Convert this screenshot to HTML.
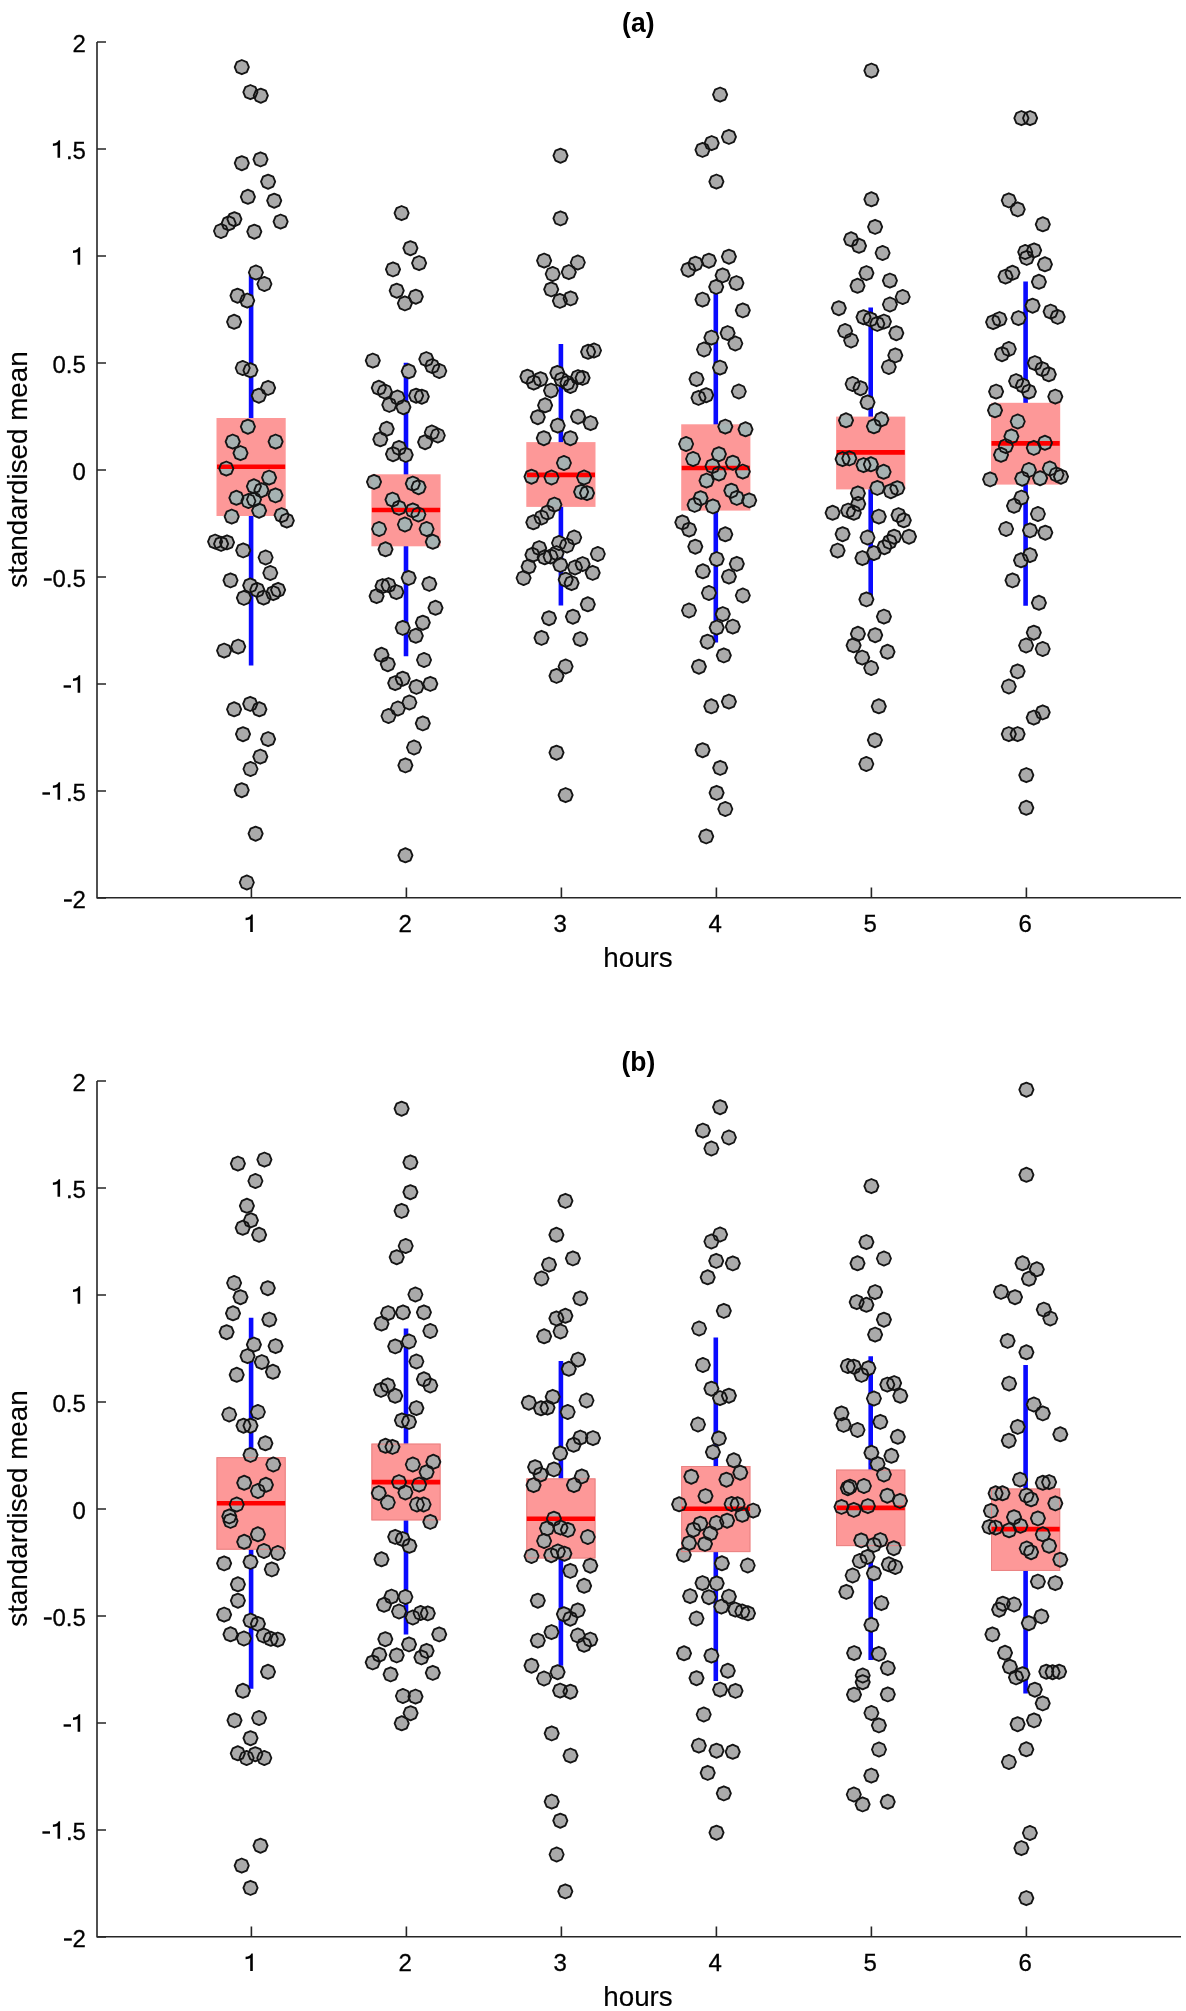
<!DOCTYPE html>
<html><head><meta charset="utf-8"><style>
html,body{margin:0;padding:0;background:#fff;}
body{width:1186px;height:2011px;overflow:hidden;}
svg{display:block;will-change:transform;}
text{font-family:"Liberation Sans", sans-serif;fill:#000;}
.tk{font-size:24px;stroke:#000;stroke-width:0.3px;}
.lb{font-size:27.8px;stroke:#000;stroke-width:0.15px;}
.tt{font-size:26.5px;font-weight:bold;}
.cf use{fill:#aaaaaa;stroke:none;}
.cft use{fill:#a6b2b2;stroke:none;}
.co use{fill:none;stroke:#141414;stroke-width:1.85;stroke-linejoin:round;}
</style></head><body>
<svg width="1186" height="2011" viewBox="0 0 1186 2011">
<defs><path id="m" d="M0.00 -7.10 L5.02 -5.02 L7.10 0.00 L5.02 5.02 L0.00 7.10 L-5.02 5.02 L-7.10 0.00 L-5.02 -5.02 Z"/></defs>
<line x1="251.1" y1="275.0" x2="251.1" y2="665.5" stroke="#0a0aff" stroke-width="4.6"/>
<line x1="406.0" y1="362.8" x2="406.0" y2="656.3" stroke="#0a0aff" stroke-width="4.6"/>
<line x1="560.9" y1="343.9" x2="560.9" y2="605.5" stroke="#0a0aff" stroke-width="4.6"/>
<line x1="715.8" y1="289.0" x2="715.8" y2="642.4" stroke="#0a0aff" stroke-width="4.6"/>
<line x1="870.7" y1="307.5" x2="870.7" y2="597.9" stroke="#0a0aff" stroke-width="4.6"/>
<line x1="1025.6" y1="281.5" x2="1025.6" y2="605.8" stroke="#0a0aff" stroke-width="4.6"/>
<rect x="216.5" y="418.0" width="69.2" height="98.0" fill="#fd9898"/>
<rect x="371.4" y="474.3" width="69.2" height="72.0" fill="#fd9898"/>
<rect x="526.3" y="442.1" width="69.2" height="64.8" fill="#fd9898"/>
<rect x="681.2" y="424.3" width="69.2" height="86.3" fill="#fd9898"/>
<rect x="836.1" y="416.6" width="69.2" height="72.8" fill="#fd9898"/>
<rect x="991.0" y="402.8" width="69.2" height="81.8" fill="#fd9898"/>
<g class="cf"><use href="#m" x="241.8" y="67.1"/><use href="#m" x="250.4" y="92.1"/><use href="#m" x="260.8" y="95.7"/><use href="#m" x="241.8" y="163.2"/><use href="#m" x="260.5" y="159.4"/><use href="#m" x="268.1" y="181.7"/><use href="#m" x="247.9" y="196.8"/><use href="#m" x="274.2" y="200.7"/><use href="#m" x="234.4" y="219.2"/><use href="#m" x="228.7" y="223.3"/><use href="#m" x="221.0" y="231.0"/><use href="#m" x="254.3" y="231.7"/><use href="#m" x="280.6" y="221.6"/><use href="#m" x="255.9" y="272.5"/><use href="#m" x="264.4" y="284.0"/><use href="#m" x="237.5" y="295.7"/><use href="#m" x="247.2" y="300.6"/><use href="#m" x="234.1" y="321.8"/><use href="#m" x="242.7" y="368.0"/><use href="#m" x="250.5" y="370.3"/><use href="#m" x="268.1" y="387.9"/><use href="#m" x="258.8" y="395.7"/><use href="#m" x="247.9" y="426.7"/><use href="#m" x="232.7" y="441.6"/><use href="#m" x="275.6" y="441.6"/><use href="#m" x="240.5" y="453.1"/><use href="#m" x="226.3" y="468.6"/><use href="#m" x="269.1" y="477.6"/><use href="#m" x="253.9" y="486.3"/><use href="#m" x="261.4" y="490.2"/><use href="#m" x="275.5" y="495.4"/><use href="#m" x="236.4" y="497.8"/><use href="#m" x="248.4" y="501.0"/><use href="#m" x="254.0" y="499.5"/><use href="#m" x="259.1" y="510.7"/><use href="#m" x="231.7" y="516.6"/><use href="#m" x="281.6" y="515.1"/><use href="#m" x="286.8" y="520.6"/><use href="#m" x="215.1" y="541.6"/><use href="#m" x="221.1" y="543.9"/><use href="#m" x="227.0" y="542.4"/><use href="#m" x="243.2" y="550.4"/><use href="#m" x="265.6" y="557.5"/><use href="#m" x="270.3" y="573.0"/><use href="#m" x="230.5" y="580.4"/><use href="#m" x="250.2" y="585.4"/><use href="#m" x="257.3" y="589.9"/><use href="#m" x="243.9" y="597.9"/><use href="#m" x="263.6" y="597.6"/><use href="#m" x="273.3" y="593.1"/><use href="#m" x="278.1" y="589.9"/><use href="#m" x="224.1" y="650.6"/><use href="#m" x="238.2" y="646.6"/><use href="#m" x="234.1" y="709.3"/><use href="#m" x="250.2" y="703.9"/><use href="#m" x="259.4" y="709.3"/><use href="#m" x="243.0" y="734.2"/><use href="#m" x="268.1" y="739.1"/><use href="#m" x="260.3" y="756.6"/><use href="#m" x="250.5" y="769.0"/><use href="#m" x="241.7" y="790.2"/><use href="#m" x="255.6" y="833.7"/><use href="#m" x="246.8" y="882.5"/><use href="#m" x="401.6" y="213.1"/><use href="#m" x="410.4" y="248.2"/><use href="#m" x="419.1" y="263.1"/><use href="#m" x="393.0" y="269.4"/><use href="#m" x="396.7" y="290.7"/><use href="#m" x="415.8" y="296.7"/><use href="#m" x="404.9" y="303.4"/><use href="#m" x="372.8" y="360.6"/><use href="#m" x="426.3" y="359.1"/><use href="#m" x="432.2" y="366.1"/><use href="#m" x="439.3" y="371.0"/><use href="#m" x="408.7" y="371.3"/><use href="#m" x="378.8" y="387.8"/><use href="#m" x="384.8" y="391.5"/><use href="#m" x="397.5" y="397.5"/><use href="#m" x="389.3" y="404.9"/><use href="#m" x="403.4" y="407.2"/><use href="#m" x="416.1" y="395.7"/><use href="#m" x="421.8" y="396.7"/><use href="#m" x="386.7" y="428.8"/><use href="#m" x="380.3" y="439.3"/><use href="#m" x="431.8" y="432.5"/><use href="#m" x="437.8" y="435.5"/><use href="#m" x="425.1" y="442.2"/><use href="#m" x="399.0" y="447.9"/><use href="#m" x="393.0" y="454.2"/><use href="#m" x="405.7" y="454.9"/><use href="#m" x="374.0" y="481.9"/><use href="#m" x="412.8" y="483.6"/><use href="#m" x="418.6" y="487.2"/><use href="#m" x="392.5" y="499.6"/><use href="#m" x="399.0" y="507.8"/><use href="#m" x="412.8" y="510.4"/><use href="#m" x="418.4" y="514.5"/><use href="#m" x="404.9" y="524.5"/><use href="#m" x="379.1" y="529.0"/><use href="#m" x="426.6" y="529.0"/><use href="#m" x="432.8" y="541.8"/><use href="#m" x="385.5" y="549.3"/><use href="#m" x="408.7" y="577.9"/><use href="#m" x="429.3" y="583.9"/><use href="#m" x="382.5" y="586.1"/><use href="#m" x="388.5" y="585.1"/><use href="#m" x="396.4" y="592.1"/><use href="#m" x="376.6" y="596.1"/><use href="#m" x="435.5" y="607.8"/><use href="#m" x="422.8" y="622.7"/><use href="#m" x="402.7" y="627.9"/><use href="#m" x="415.8" y="635.8"/><use href="#m" x="381.5" y="654.8"/><use href="#m" x="387.8" y="664.2"/><use href="#m" x="424.0" y="660.0"/><use href="#m" x="395.2" y="683.1"/><use href="#m" x="402.7" y="678.7"/><use href="#m" x="416.4" y="686.9"/><use href="#m" x="430.3" y="683.9"/><use href="#m" x="409.4" y="702.5"/><use href="#m" x="397.9" y="708.5"/><use href="#m" x="388.5" y="716.0"/><use href="#m" x="422.8" y="723.4"/><use href="#m" x="414.0" y="747.5"/><use href="#m" x="405.4" y="765.4"/><use href="#m" x="405.4" y="855.3"/><use href="#m" x="560.5" y="155.7"/><use href="#m" x="560.5" y="218.4"/><use href="#m" x="544.1" y="260.6"/><use href="#m" x="577.8" y="262.5"/><use href="#m" x="552.7" y="274.0"/><use href="#m" x="568.8" y="272.1"/><use href="#m" x="551.2" y="289.4"/><use href="#m" x="559.9" y="300.9"/><use href="#m" x="570.6" y="298.4"/><use href="#m" x="588.1" y="351.8"/><use href="#m" x="594.0" y="350.5"/><use href="#m" x="527.4" y="376.7"/><use href="#m" x="533.7" y="382.6"/><use href="#m" x="540.5" y="379.2"/><use href="#m" x="557.3" y="372.9"/><use href="#m" x="561.5" y="379.6"/><use href="#m" x="567.4" y="383.0"/><use href="#m" x="570.4" y="386.0"/><use href="#m" x="578.0" y="377.1"/><use href="#m" x="582.6" y="377.9"/><use href="#m" x="551.0" y="390.6"/><use href="#m" x="545.1" y="405.3"/><use href="#m" x="537.8" y="417.2"/><use href="#m" x="578.0" y="416.7"/><use href="#m" x="590.6" y="423.1"/><use href="#m" x="557.7" y="425.6"/><use href="#m" x="543.8" y="438.2"/><use href="#m" x="570.4" y="438.2"/><use href="#m" x="563.9" y="463.0"/><use href="#m" x="531.5" y="476.7"/><use href="#m" x="551.5" y="477.5"/><use href="#m" x="584.1" y="477.5"/><use href="#m" x="581.1" y="491.9"/><use href="#m" x="587.0" y="493.1"/><use href="#m" x="554.4" y="504.6"/><use href="#m" x="547.5" y="512.5"/><use href="#m" x="541.5" y="517.5"/><use href="#m" x="533.3" y="522.3"/><use href="#m" x="574.2" y="537.5"/><use href="#m" x="559.0" y="543.0"/><use href="#m" x="567.0" y="545.5"/><use href="#m" x="539.2" y="548.1"/><use href="#m" x="532.4" y="554.8"/><use href="#m" x="544.7" y="557.3"/><use href="#m" x="550.6" y="556.5"/><use href="#m" x="556.5" y="553.1"/><use href="#m" x="560.3" y="564.9"/><use href="#m" x="528.6" y="566.6"/><use href="#m" x="523.6" y="578.0"/><use href="#m" x="575.0" y="567.5"/><use href="#m" x="582.6" y="564.1"/><use href="#m" x="597.8" y="554.0"/><use href="#m" x="592.7" y="572.9"/><use href="#m" x="565.7" y="579.7"/><use href="#m" x="571.6" y="583.1"/><use href="#m" x="587.8" y="604.3"/><use href="#m" x="549.0" y="618.2"/><use href="#m" x="572.9" y="616.7"/><use href="#m" x="541.5" y="637.9"/><use href="#m" x="580.3" y="639.1"/><use href="#m" x="565.6" y="666.5"/><use href="#m" x="556.5" y="675.9"/><use href="#m" x="556.5" y="752.7"/><use href="#m" x="565.6" y="795.1"/><use href="#m" x="720.1" y="94.6"/><use href="#m" x="728.9" y="136.9"/><use href="#m" x="711.7" y="143.1"/><use href="#m" x="702.5" y="149.9"/><use href="#m" x="716.4" y="181.6"/><use href="#m" x="728.9" y="256.7"/><use href="#m" x="708.9" y="260.7"/><use href="#m" x="695.5" y="263.7"/><use href="#m" x="688.3" y="269.7"/><use href="#m" x="722.6" y="275.4"/><use href="#m" x="736.4" y="283.1"/><use href="#m" x="716.2" y="286.9"/><use href="#m" x="702.5" y="299.6"/><use href="#m" x="742.8" y="310.4"/><use href="#m" x="727.6" y="333.1"/><use href="#m" x="711.4" y="337.6"/><use href="#m" x="735.3" y="343.5"/><use href="#m" x="704.0" y="349.5"/><use href="#m" x="720.0" y="367.6"/><use href="#m" x="696.5" y="379.1"/><use href="#m" x="738.8" y="391.5"/><use href="#m" x="706.2" y="395.2"/><use href="#m" x="698.5" y="397.9"/><use href="#m" x="725.3" y="426.6"/><use href="#m" x="745.5" y="429.3"/><use href="#m" x="686.1" y="444.0"/><use href="#m" x="718.9" y="454.2"/><use href="#m" x="693.1" y="459.0"/><use href="#m" x="732.8" y="462.7"/><use href="#m" x="712.5" y="466.1"/><use href="#m" x="718.9" y="473.6"/><use href="#m" x="742.8" y="471.6"/><use href="#m" x="706.5" y="480.6"/><use href="#m" x="731.3" y="490.7"/><use href="#m" x="700.6" y="498.2"/><use href="#m" x="736.8" y="497.9"/><use href="#m" x="749.2" y="500.4"/><use href="#m" x="694.6" y="504.9"/><use href="#m" x="712.9" y="506.4"/><use href="#m" x="682.3" y="522.4"/><use href="#m" x="689.1" y="529.6"/><use href="#m" x="725.3" y="534.3"/><use href="#m" x="695.3" y="546.7"/><use href="#m" x="716.7" y="559.1"/><use href="#m" x="736.8" y="563.9"/><use href="#m" x="702.9" y="571.3"/><use href="#m" x="728.9" y="576.6"/><use href="#m" x="708.9" y="593.0"/><use href="#m" x="742.8" y="595.5"/><use href="#m" x="689.0" y="610.5"/><use href="#m" x="722.8" y="614.1"/><use href="#m" x="716.7" y="627.6"/><use href="#m" x="732.8" y="626.6"/><use href="#m" x="707.5" y="641.7"/><use href="#m" x="723.8" y="655.4"/><use href="#m" x="698.9" y="666.7"/><use href="#m" x="728.9" y="701.6"/><use href="#m" x="711.3" y="706.3"/><use href="#m" x="702.6" y="750.2"/><use href="#m" x="720.2" y="767.9"/><use href="#m" x="716.6" y="792.9"/><use href="#m" x="725.3" y="809.0"/><use href="#m" x="706.2" y="836.4"/><use href="#m" x="871.4" y="70.6"/><use href="#m" x="871.4" y="199.3"/><use href="#m" x="875.1" y="226.9"/><use href="#m" x="851.1" y="239.3"/><use href="#m" x="859.0" y="245.8"/><use href="#m" x="882.6" y="253.0"/><use href="#m" x="866.4" y="273.1"/><use href="#m" x="889.9" y="280.6"/><use href="#m" x="857.5" y="285.8"/><use href="#m" x="902.7" y="297.0"/><use href="#m" x="889.9" y="304.5"/><use href="#m" x="838.8" y="308.2"/><use href="#m" x="863.5" y="317.2"/><use href="#m" x="870.5" y="319.4"/><use href="#m" x="877.3" y="323.9"/><use href="#m" x="883.9" y="321.6"/><use href="#m" x="845.1" y="331.0"/><use href="#m" x="851.1" y="340.5"/><use href="#m" x="896.3" y="333.2"/><use href="#m" x="895.3" y="355.4"/><use href="#m" x="888.8" y="367.0"/><use href="#m" x="852.6" y="384.0"/><use href="#m" x="860.5" y="388.2"/><use href="#m" x="867.5" y="402.4"/><use href="#m" x="846.0" y="420.3"/><use href="#m" x="881.4" y="419.3"/><use href="#m" x="873.9" y="426.3"/><use href="#m" x="842.6" y="459.1"/><use href="#m" x="849.3" y="458.4"/><use href="#m" x="863.5" y="465.1"/><use href="#m" x="870.9" y="464.3"/><use href="#m" x="883.6" y="471.8"/><use href="#m" x="877.3" y="487.9"/><use href="#m" x="890.8" y="491.2"/><use href="#m" x="897.3" y="488.2"/><use href="#m" x="857.9" y="493.4"/><use href="#m" x="858.2" y="503.9"/><use href="#m" x="848.1" y="510.6"/><use href="#m" x="853.8" y="512.8"/><use href="#m" x="832.6" y="512.8"/><use href="#m" x="878.8" y="516.6"/><use href="#m" x="898.5" y="515.1"/><use href="#m" x="903.8" y="520.3"/><use href="#m" x="842.6" y="534.2"/><use href="#m" x="867.5" y="537.5"/><use href="#m" x="894.1" y="536.7"/><use href="#m" x="909.0" y="536.7"/><use href="#m" x="889.6" y="541.9"/><use href="#m" x="884.4" y="547.2"/><use href="#m" x="837.6" y="550.6"/><use href="#m" x="873.9" y="553.1"/><use href="#m" x="862.4" y="558.1"/><use href="#m" x="866.4" y="599.4"/><use href="#m" x="883.9" y="616.6"/><use href="#m" x="857.9" y="633.8"/><use href="#m" x="875.2" y="635.2"/><use href="#m" x="853.6" y="645.3"/><use href="#m" x="887.5" y="651.8"/><use href="#m" x="862.2" y="657.6"/><use href="#m" x="871.2" y="668.0"/><use href="#m" x="878.8" y="706.3"/><use href="#m" x="874.9" y="740.2"/><use href="#m" x="866.3" y="764.0"/><use href="#m" x="1021.4" y="118.1"/><use href="#m" x="1030.1" y="118.1"/><use href="#m" x="1008.8" y="200.4"/><use href="#m" x="1017.7" y="209.4"/><use href="#m" x="1042.8" y="224.3"/><use href="#m" x="1025.2" y="252.0"/><use href="#m" x="1034.1" y="250.4"/><use href="#m" x="1026.7" y="257.9"/><use href="#m" x="1044.9" y="264.3"/><use href="#m" x="1005.5" y="276.6"/><use href="#m" x="1012.5" y="272.8"/><use href="#m" x="1038.9" y="281.8"/><use href="#m" x="1032.6" y="305.7"/><use href="#m" x="1050.6" y="311.6"/><use href="#m" x="1057.7" y="316.9"/><use href="#m" x="999.5" y="319.1"/><use href="#m" x="993.1" y="322.1"/><use href="#m" x="1018.5" y="318.1"/><use href="#m" x="1008.8" y="349.0"/><use href="#m" x="1002.0" y="354.2"/><use href="#m" x="1034.9" y="363.1"/><use href="#m" x="1042.3" y="369.1"/><use href="#m" x="1048.8" y="374.3"/><use href="#m" x="1016.1" y="381.1"/><use href="#m" x="1023.0" y="385.6"/><use href="#m" x="1028.9" y="391.6"/><use href="#m" x="996.1" y="391.6"/><use href="#m" x="1055.3" y="396.6"/><use href="#m" x="995.0" y="410.3"/><use href="#m" x="1017.7" y="421.5"/><use href="#m" x="1011.4" y="436.4"/><use href="#m" x="1005.8" y="446.1"/><use href="#m" x="1001.0" y="454.8"/><use href="#m" x="1033.8" y="447.9"/><use href="#m" x="1044.9" y="442.8"/><use href="#m" x="1028.9" y="470.0"/><use href="#m" x="1049.8" y="468.5"/><use href="#m" x="1056.5" y="474.5"/><use href="#m" x="1061.0" y="476.7"/><use href="#m" x="1022.2" y="478.7"/><use href="#m" x="1040.1" y="478.2"/><use href="#m" x="990.1" y="479.4"/><use href="#m" x="1021.4" y="497.6"/><use href="#m" x="1014.0" y="505.8"/><use href="#m" x="1037.9" y="514.0"/><use href="#m" x="1006.1" y="529.0"/><use href="#m" x="1030.0" y="530.4"/><use href="#m" x="1045.3" y="532.7"/><use href="#m" x="1030.0" y="555.1"/><use href="#m" x="1021.0" y="560.3"/><use href="#m" x="1012.5" y="580.4"/><use href="#m" x="1038.9" y="602.8"/><use href="#m" x="1033.8" y="632.7"/><use href="#m" x="1026.1" y="645.5"/><use href="#m" x="1042.7" y="649.0"/><use href="#m" x="1017.6" y="671.4"/><use href="#m" x="1008.8" y="686.5"/><use href="#m" x="1042.7" y="712.4"/><use href="#m" x="1033.7" y="717.6"/><use href="#m" x="1008.8" y="734.1"/><use href="#m" x="1017.6" y="734.1"/><use href="#m" x="1026.3" y="775.1"/><use href="#m" x="1026.3" y="807.8"/></g>
<clipPath id="clipa"><rect x="216.5" y="418.0" width="69.2" height="98.0"/><rect x="371.4" y="474.3" width="69.2" height="72.0"/><rect x="526.3" y="442.1" width="69.2" height="64.8"/><rect x="681.2" y="424.3" width="69.2" height="86.3"/><rect x="836.1" y="416.6" width="69.2" height="72.8"/><rect x="991.0" y="402.8" width="69.2" height="81.8"/></clipPath>
<g class="cft" clip-path="url(#clipa)"><use href="#m" x="241.8" y="67.1"/><use href="#m" x="250.4" y="92.1"/><use href="#m" x="260.8" y="95.7"/><use href="#m" x="241.8" y="163.2"/><use href="#m" x="260.5" y="159.4"/><use href="#m" x="268.1" y="181.7"/><use href="#m" x="247.9" y="196.8"/><use href="#m" x="274.2" y="200.7"/><use href="#m" x="234.4" y="219.2"/><use href="#m" x="228.7" y="223.3"/><use href="#m" x="221.0" y="231.0"/><use href="#m" x="254.3" y="231.7"/><use href="#m" x="280.6" y="221.6"/><use href="#m" x="255.9" y="272.5"/><use href="#m" x="264.4" y="284.0"/><use href="#m" x="237.5" y="295.7"/><use href="#m" x="247.2" y="300.6"/><use href="#m" x="234.1" y="321.8"/><use href="#m" x="242.7" y="368.0"/><use href="#m" x="250.5" y="370.3"/><use href="#m" x="268.1" y="387.9"/><use href="#m" x="258.8" y="395.7"/><use href="#m" x="247.9" y="426.7"/><use href="#m" x="232.7" y="441.6"/><use href="#m" x="275.6" y="441.6"/><use href="#m" x="240.5" y="453.1"/><use href="#m" x="226.3" y="468.6"/><use href="#m" x="269.1" y="477.6"/><use href="#m" x="253.9" y="486.3"/><use href="#m" x="261.4" y="490.2"/><use href="#m" x="275.5" y="495.4"/><use href="#m" x="236.4" y="497.8"/><use href="#m" x="248.4" y="501.0"/><use href="#m" x="254.0" y="499.5"/><use href="#m" x="259.1" y="510.7"/><use href="#m" x="231.7" y="516.6"/><use href="#m" x="281.6" y="515.1"/><use href="#m" x="286.8" y="520.6"/><use href="#m" x="215.1" y="541.6"/><use href="#m" x="221.1" y="543.9"/><use href="#m" x="227.0" y="542.4"/><use href="#m" x="243.2" y="550.4"/><use href="#m" x="265.6" y="557.5"/><use href="#m" x="270.3" y="573.0"/><use href="#m" x="230.5" y="580.4"/><use href="#m" x="250.2" y="585.4"/><use href="#m" x="257.3" y="589.9"/><use href="#m" x="243.9" y="597.9"/><use href="#m" x="263.6" y="597.6"/><use href="#m" x="273.3" y="593.1"/><use href="#m" x="278.1" y="589.9"/><use href="#m" x="224.1" y="650.6"/><use href="#m" x="238.2" y="646.6"/><use href="#m" x="234.1" y="709.3"/><use href="#m" x="250.2" y="703.9"/><use href="#m" x="259.4" y="709.3"/><use href="#m" x="243.0" y="734.2"/><use href="#m" x="268.1" y="739.1"/><use href="#m" x="260.3" y="756.6"/><use href="#m" x="250.5" y="769.0"/><use href="#m" x="241.7" y="790.2"/><use href="#m" x="255.6" y="833.7"/><use href="#m" x="246.8" y="882.5"/><use href="#m" x="401.6" y="213.1"/><use href="#m" x="410.4" y="248.2"/><use href="#m" x="419.1" y="263.1"/><use href="#m" x="393.0" y="269.4"/><use href="#m" x="396.7" y="290.7"/><use href="#m" x="415.8" y="296.7"/><use href="#m" x="404.9" y="303.4"/><use href="#m" x="372.8" y="360.6"/><use href="#m" x="426.3" y="359.1"/><use href="#m" x="432.2" y="366.1"/><use href="#m" x="439.3" y="371.0"/><use href="#m" x="408.7" y="371.3"/><use href="#m" x="378.8" y="387.8"/><use href="#m" x="384.8" y="391.5"/><use href="#m" x="397.5" y="397.5"/><use href="#m" x="389.3" y="404.9"/><use href="#m" x="403.4" y="407.2"/><use href="#m" x="416.1" y="395.7"/><use href="#m" x="421.8" y="396.7"/><use href="#m" x="386.7" y="428.8"/><use href="#m" x="380.3" y="439.3"/><use href="#m" x="431.8" y="432.5"/><use href="#m" x="437.8" y="435.5"/><use href="#m" x="425.1" y="442.2"/><use href="#m" x="399.0" y="447.9"/><use href="#m" x="393.0" y="454.2"/><use href="#m" x="405.7" y="454.9"/><use href="#m" x="374.0" y="481.9"/><use href="#m" x="412.8" y="483.6"/><use href="#m" x="418.6" y="487.2"/><use href="#m" x="392.5" y="499.6"/><use href="#m" x="399.0" y="507.8"/><use href="#m" x="412.8" y="510.4"/><use href="#m" x="418.4" y="514.5"/><use href="#m" x="404.9" y="524.5"/><use href="#m" x="379.1" y="529.0"/><use href="#m" x="426.6" y="529.0"/><use href="#m" x="432.8" y="541.8"/><use href="#m" x="385.5" y="549.3"/><use href="#m" x="408.7" y="577.9"/><use href="#m" x="429.3" y="583.9"/><use href="#m" x="382.5" y="586.1"/><use href="#m" x="388.5" y="585.1"/><use href="#m" x="396.4" y="592.1"/><use href="#m" x="376.6" y="596.1"/><use href="#m" x="435.5" y="607.8"/><use href="#m" x="422.8" y="622.7"/><use href="#m" x="402.7" y="627.9"/><use href="#m" x="415.8" y="635.8"/><use href="#m" x="381.5" y="654.8"/><use href="#m" x="387.8" y="664.2"/><use href="#m" x="424.0" y="660.0"/><use href="#m" x="395.2" y="683.1"/><use href="#m" x="402.7" y="678.7"/><use href="#m" x="416.4" y="686.9"/><use href="#m" x="430.3" y="683.9"/><use href="#m" x="409.4" y="702.5"/><use href="#m" x="397.9" y="708.5"/><use href="#m" x="388.5" y="716.0"/><use href="#m" x="422.8" y="723.4"/><use href="#m" x="414.0" y="747.5"/><use href="#m" x="405.4" y="765.4"/><use href="#m" x="405.4" y="855.3"/><use href="#m" x="560.5" y="155.7"/><use href="#m" x="560.5" y="218.4"/><use href="#m" x="544.1" y="260.6"/><use href="#m" x="577.8" y="262.5"/><use href="#m" x="552.7" y="274.0"/><use href="#m" x="568.8" y="272.1"/><use href="#m" x="551.2" y="289.4"/><use href="#m" x="559.9" y="300.9"/><use href="#m" x="570.6" y="298.4"/><use href="#m" x="588.1" y="351.8"/><use href="#m" x="594.0" y="350.5"/><use href="#m" x="527.4" y="376.7"/><use href="#m" x="533.7" y="382.6"/><use href="#m" x="540.5" y="379.2"/><use href="#m" x="557.3" y="372.9"/><use href="#m" x="561.5" y="379.6"/><use href="#m" x="567.4" y="383.0"/><use href="#m" x="570.4" y="386.0"/><use href="#m" x="578.0" y="377.1"/><use href="#m" x="582.6" y="377.9"/><use href="#m" x="551.0" y="390.6"/><use href="#m" x="545.1" y="405.3"/><use href="#m" x="537.8" y="417.2"/><use href="#m" x="578.0" y="416.7"/><use href="#m" x="590.6" y="423.1"/><use href="#m" x="557.7" y="425.6"/><use href="#m" x="543.8" y="438.2"/><use href="#m" x="570.4" y="438.2"/><use href="#m" x="563.9" y="463.0"/><use href="#m" x="531.5" y="476.7"/><use href="#m" x="551.5" y="477.5"/><use href="#m" x="584.1" y="477.5"/><use href="#m" x="581.1" y="491.9"/><use href="#m" x="587.0" y="493.1"/><use href="#m" x="554.4" y="504.6"/><use href="#m" x="547.5" y="512.5"/><use href="#m" x="541.5" y="517.5"/><use href="#m" x="533.3" y="522.3"/><use href="#m" x="574.2" y="537.5"/><use href="#m" x="559.0" y="543.0"/><use href="#m" x="567.0" y="545.5"/><use href="#m" x="539.2" y="548.1"/><use href="#m" x="532.4" y="554.8"/><use href="#m" x="544.7" y="557.3"/><use href="#m" x="550.6" y="556.5"/><use href="#m" x="556.5" y="553.1"/><use href="#m" x="560.3" y="564.9"/><use href="#m" x="528.6" y="566.6"/><use href="#m" x="523.6" y="578.0"/><use href="#m" x="575.0" y="567.5"/><use href="#m" x="582.6" y="564.1"/><use href="#m" x="597.8" y="554.0"/><use href="#m" x="592.7" y="572.9"/><use href="#m" x="565.7" y="579.7"/><use href="#m" x="571.6" y="583.1"/><use href="#m" x="587.8" y="604.3"/><use href="#m" x="549.0" y="618.2"/><use href="#m" x="572.9" y="616.7"/><use href="#m" x="541.5" y="637.9"/><use href="#m" x="580.3" y="639.1"/><use href="#m" x="565.6" y="666.5"/><use href="#m" x="556.5" y="675.9"/><use href="#m" x="556.5" y="752.7"/><use href="#m" x="565.6" y="795.1"/><use href="#m" x="720.1" y="94.6"/><use href="#m" x="728.9" y="136.9"/><use href="#m" x="711.7" y="143.1"/><use href="#m" x="702.5" y="149.9"/><use href="#m" x="716.4" y="181.6"/><use href="#m" x="728.9" y="256.7"/><use href="#m" x="708.9" y="260.7"/><use href="#m" x="695.5" y="263.7"/><use href="#m" x="688.3" y="269.7"/><use href="#m" x="722.6" y="275.4"/><use href="#m" x="736.4" y="283.1"/><use href="#m" x="716.2" y="286.9"/><use href="#m" x="702.5" y="299.6"/><use href="#m" x="742.8" y="310.4"/><use href="#m" x="727.6" y="333.1"/><use href="#m" x="711.4" y="337.6"/><use href="#m" x="735.3" y="343.5"/><use href="#m" x="704.0" y="349.5"/><use href="#m" x="720.0" y="367.6"/><use href="#m" x="696.5" y="379.1"/><use href="#m" x="738.8" y="391.5"/><use href="#m" x="706.2" y="395.2"/><use href="#m" x="698.5" y="397.9"/><use href="#m" x="725.3" y="426.6"/><use href="#m" x="745.5" y="429.3"/><use href="#m" x="686.1" y="444.0"/><use href="#m" x="718.9" y="454.2"/><use href="#m" x="693.1" y="459.0"/><use href="#m" x="732.8" y="462.7"/><use href="#m" x="712.5" y="466.1"/><use href="#m" x="718.9" y="473.6"/><use href="#m" x="742.8" y="471.6"/><use href="#m" x="706.5" y="480.6"/><use href="#m" x="731.3" y="490.7"/><use href="#m" x="700.6" y="498.2"/><use href="#m" x="736.8" y="497.9"/><use href="#m" x="749.2" y="500.4"/><use href="#m" x="694.6" y="504.9"/><use href="#m" x="712.9" y="506.4"/><use href="#m" x="682.3" y="522.4"/><use href="#m" x="689.1" y="529.6"/><use href="#m" x="725.3" y="534.3"/><use href="#m" x="695.3" y="546.7"/><use href="#m" x="716.7" y="559.1"/><use href="#m" x="736.8" y="563.9"/><use href="#m" x="702.9" y="571.3"/><use href="#m" x="728.9" y="576.6"/><use href="#m" x="708.9" y="593.0"/><use href="#m" x="742.8" y="595.5"/><use href="#m" x="689.0" y="610.5"/><use href="#m" x="722.8" y="614.1"/><use href="#m" x="716.7" y="627.6"/><use href="#m" x="732.8" y="626.6"/><use href="#m" x="707.5" y="641.7"/><use href="#m" x="723.8" y="655.4"/><use href="#m" x="698.9" y="666.7"/><use href="#m" x="728.9" y="701.6"/><use href="#m" x="711.3" y="706.3"/><use href="#m" x="702.6" y="750.2"/><use href="#m" x="720.2" y="767.9"/><use href="#m" x="716.6" y="792.9"/><use href="#m" x="725.3" y="809.0"/><use href="#m" x="706.2" y="836.4"/><use href="#m" x="871.4" y="70.6"/><use href="#m" x="871.4" y="199.3"/><use href="#m" x="875.1" y="226.9"/><use href="#m" x="851.1" y="239.3"/><use href="#m" x="859.0" y="245.8"/><use href="#m" x="882.6" y="253.0"/><use href="#m" x="866.4" y="273.1"/><use href="#m" x="889.9" y="280.6"/><use href="#m" x="857.5" y="285.8"/><use href="#m" x="902.7" y="297.0"/><use href="#m" x="889.9" y="304.5"/><use href="#m" x="838.8" y="308.2"/><use href="#m" x="863.5" y="317.2"/><use href="#m" x="870.5" y="319.4"/><use href="#m" x="877.3" y="323.9"/><use href="#m" x="883.9" y="321.6"/><use href="#m" x="845.1" y="331.0"/><use href="#m" x="851.1" y="340.5"/><use href="#m" x="896.3" y="333.2"/><use href="#m" x="895.3" y="355.4"/><use href="#m" x="888.8" y="367.0"/><use href="#m" x="852.6" y="384.0"/><use href="#m" x="860.5" y="388.2"/><use href="#m" x="867.5" y="402.4"/><use href="#m" x="846.0" y="420.3"/><use href="#m" x="881.4" y="419.3"/><use href="#m" x="873.9" y="426.3"/><use href="#m" x="842.6" y="459.1"/><use href="#m" x="849.3" y="458.4"/><use href="#m" x="863.5" y="465.1"/><use href="#m" x="870.9" y="464.3"/><use href="#m" x="883.6" y="471.8"/><use href="#m" x="877.3" y="487.9"/><use href="#m" x="890.8" y="491.2"/><use href="#m" x="897.3" y="488.2"/><use href="#m" x="857.9" y="493.4"/><use href="#m" x="858.2" y="503.9"/><use href="#m" x="848.1" y="510.6"/><use href="#m" x="853.8" y="512.8"/><use href="#m" x="832.6" y="512.8"/><use href="#m" x="878.8" y="516.6"/><use href="#m" x="898.5" y="515.1"/><use href="#m" x="903.8" y="520.3"/><use href="#m" x="842.6" y="534.2"/><use href="#m" x="867.5" y="537.5"/><use href="#m" x="894.1" y="536.7"/><use href="#m" x="909.0" y="536.7"/><use href="#m" x="889.6" y="541.9"/><use href="#m" x="884.4" y="547.2"/><use href="#m" x="837.6" y="550.6"/><use href="#m" x="873.9" y="553.1"/><use href="#m" x="862.4" y="558.1"/><use href="#m" x="866.4" y="599.4"/><use href="#m" x="883.9" y="616.6"/><use href="#m" x="857.9" y="633.8"/><use href="#m" x="875.2" y="635.2"/><use href="#m" x="853.6" y="645.3"/><use href="#m" x="887.5" y="651.8"/><use href="#m" x="862.2" y="657.6"/><use href="#m" x="871.2" y="668.0"/><use href="#m" x="878.8" y="706.3"/><use href="#m" x="874.9" y="740.2"/><use href="#m" x="866.3" y="764.0"/><use href="#m" x="1021.4" y="118.1"/><use href="#m" x="1030.1" y="118.1"/><use href="#m" x="1008.8" y="200.4"/><use href="#m" x="1017.7" y="209.4"/><use href="#m" x="1042.8" y="224.3"/><use href="#m" x="1025.2" y="252.0"/><use href="#m" x="1034.1" y="250.4"/><use href="#m" x="1026.7" y="257.9"/><use href="#m" x="1044.9" y="264.3"/><use href="#m" x="1005.5" y="276.6"/><use href="#m" x="1012.5" y="272.8"/><use href="#m" x="1038.9" y="281.8"/><use href="#m" x="1032.6" y="305.7"/><use href="#m" x="1050.6" y="311.6"/><use href="#m" x="1057.7" y="316.9"/><use href="#m" x="999.5" y="319.1"/><use href="#m" x="993.1" y="322.1"/><use href="#m" x="1018.5" y="318.1"/><use href="#m" x="1008.8" y="349.0"/><use href="#m" x="1002.0" y="354.2"/><use href="#m" x="1034.9" y="363.1"/><use href="#m" x="1042.3" y="369.1"/><use href="#m" x="1048.8" y="374.3"/><use href="#m" x="1016.1" y="381.1"/><use href="#m" x="1023.0" y="385.6"/><use href="#m" x="1028.9" y="391.6"/><use href="#m" x="996.1" y="391.6"/><use href="#m" x="1055.3" y="396.6"/><use href="#m" x="995.0" y="410.3"/><use href="#m" x="1017.7" y="421.5"/><use href="#m" x="1011.4" y="436.4"/><use href="#m" x="1005.8" y="446.1"/><use href="#m" x="1001.0" y="454.8"/><use href="#m" x="1033.8" y="447.9"/><use href="#m" x="1044.9" y="442.8"/><use href="#m" x="1028.9" y="470.0"/><use href="#m" x="1049.8" y="468.5"/><use href="#m" x="1056.5" y="474.5"/><use href="#m" x="1061.0" y="476.7"/><use href="#m" x="1022.2" y="478.7"/><use href="#m" x="1040.1" y="478.2"/><use href="#m" x="990.1" y="479.4"/><use href="#m" x="1021.4" y="497.6"/><use href="#m" x="1014.0" y="505.8"/><use href="#m" x="1037.9" y="514.0"/><use href="#m" x="1006.1" y="529.0"/><use href="#m" x="1030.0" y="530.4"/><use href="#m" x="1045.3" y="532.7"/><use href="#m" x="1030.0" y="555.1"/><use href="#m" x="1021.0" y="560.3"/><use href="#m" x="1012.5" y="580.4"/><use href="#m" x="1038.9" y="602.8"/><use href="#m" x="1033.8" y="632.7"/><use href="#m" x="1026.1" y="645.5"/><use href="#m" x="1042.7" y="649.0"/><use href="#m" x="1017.6" y="671.4"/><use href="#m" x="1008.8" y="686.5"/><use href="#m" x="1042.7" y="712.4"/><use href="#m" x="1033.7" y="717.6"/><use href="#m" x="1008.8" y="734.1"/><use href="#m" x="1017.6" y="734.1"/><use href="#m" x="1026.3" y="775.1"/><use href="#m" x="1026.3" y="807.8"/></g>
<line x1="217.0" y1="466.8" x2="285.2" y2="466.8" stroke="#ff0000" stroke-width="4.6"/>
<line x1="371.9" y1="510.0" x2="440.1" y2="510.0" stroke="#ff0000" stroke-width="4.6"/>
<line x1="526.8" y1="474.9" x2="595.0" y2="474.9" stroke="#ff0000" stroke-width="4.6"/>
<line x1="681.7" y1="468.0" x2="749.9" y2="468.0" stroke="#ff0000" stroke-width="4.6"/>
<line x1="836.6" y1="452.4" x2="904.8" y2="452.4" stroke="#ff0000" stroke-width="4.6"/>
<line x1="991.5" y1="443.4" x2="1059.7" y2="443.4" stroke="#ff0000" stroke-width="4.6"/>
<g class="co"><use href="#m" x="241.8" y="67.1"/><use href="#m" x="250.4" y="92.1"/><use href="#m" x="260.8" y="95.7"/><use href="#m" x="241.8" y="163.2"/><use href="#m" x="260.5" y="159.4"/><use href="#m" x="268.1" y="181.7"/><use href="#m" x="247.9" y="196.8"/><use href="#m" x="274.2" y="200.7"/><use href="#m" x="234.4" y="219.2"/><use href="#m" x="228.7" y="223.3"/><use href="#m" x="221.0" y="231.0"/><use href="#m" x="254.3" y="231.7"/><use href="#m" x="280.6" y="221.6"/><use href="#m" x="255.9" y="272.5"/><use href="#m" x="264.4" y="284.0"/><use href="#m" x="237.5" y="295.7"/><use href="#m" x="247.2" y="300.6"/><use href="#m" x="234.1" y="321.8"/><use href="#m" x="242.7" y="368.0"/><use href="#m" x="250.5" y="370.3"/><use href="#m" x="268.1" y="387.9"/><use href="#m" x="258.8" y="395.7"/><use href="#m" x="247.9" y="426.7"/><use href="#m" x="232.7" y="441.6"/><use href="#m" x="275.6" y="441.6"/><use href="#m" x="240.5" y="453.1"/><use href="#m" x="226.3" y="468.6"/><use href="#m" x="269.1" y="477.6"/><use href="#m" x="253.9" y="486.3"/><use href="#m" x="261.4" y="490.2"/><use href="#m" x="275.5" y="495.4"/><use href="#m" x="236.4" y="497.8"/><use href="#m" x="248.4" y="501.0"/><use href="#m" x="254.0" y="499.5"/><use href="#m" x="259.1" y="510.7"/><use href="#m" x="231.7" y="516.6"/><use href="#m" x="281.6" y="515.1"/><use href="#m" x="286.8" y="520.6"/><use href="#m" x="215.1" y="541.6"/><use href="#m" x="221.1" y="543.9"/><use href="#m" x="227.0" y="542.4"/><use href="#m" x="243.2" y="550.4"/><use href="#m" x="265.6" y="557.5"/><use href="#m" x="270.3" y="573.0"/><use href="#m" x="230.5" y="580.4"/><use href="#m" x="250.2" y="585.4"/><use href="#m" x="257.3" y="589.9"/><use href="#m" x="243.9" y="597.9"/><use href="#m" x="263.6" y="597.6"/><use href="#m" x="273.3" y="593.1"/><use href="#m" x="278.1" y="589.9"/><use href="#m" x="224.1" y="650.6"/><use href="#m" x="238.2" y="646.6"/><use href="#m" x="234.1" y="709.3"/><use href="#m" x="250.2" y="703.9"/><use href="#m" x="259.4" y="709.3"/><use href="#m" x="243.0" y="734.2"/><use href="#m" x="268.1" y="739.1"/><use href="#m" x="260.3" y="756.6"/><use href="#m" x="250.5" y="769.0"/><use href="#m" x="241.7" y="790.2"/><use href="#m" x="255.6" y="833.7"/><use href="#m" x="246.8" y="882.5"/><use href="#m" x="401.6" y="213.1"/><use href="#m" x="410.4" y="248.2"/><use href="#m" x="419.1" y="263.1"/><use href="#m" x="393.0" y="269.4"/><use href="#m" x="396.7" y="290.7"/><use href="#m" x="415.8" y="296.7"/><use href="#m" x="404.9" y="303.4"/><use href="#m" x="372.8" y="360.6"/><use href="#m" x="426.3" y="359.1"/><use href="#m" x="432.2" y="366.1"/><use href="#m" x="439.3" y="371.0"/><use href="#m" x="408.7" y="371.3"/><use href="#m" x="378.8" y="387.8"/><use href="#m" x="384.8" y="391.5"/><use href="#m" x="397.5" y="397.5"/><use href="#m" x="389.3" y="404.9"/><use href="#m" x="403.4" y="407.2"/><use href="#m" x="416.1" y="395.7"/><use href="#m" x="421.8" y="396.7"/><use href="#m" x="386.7" y="428.8"/><use href="#m" x="380.3" y="439.3"/><use href="#m" x="431.8" y="432.5"/><use href="#m" x="437.8" y="435.5"/><use href="#m" x="425.1" y="442.2"/><use href="#m" x="399.0" y="447.9"/><use href="#m" x="393.0" y="454.2"/><use href="#m" x="405.7" y="454.9"/><use href="#m" x="374.0" y="481.9"/><use href="#m" x="412.8" y="483.6"/><use href="#m" x="418.6" y="487.2"/><use href="#m" x="392.5" y="499.6"/><use href="#m" x="399.0" y="507.8"/><use href="#m" x="412.8" y="510.4"/><use href="#m" x="418.4" y="514.5"/><use href="#m" x="404.9" y="524.5"/><use href="#m" x="379.1" y="529.0"/><use href="#m" x="426.6" y="529.0"/><use href="#m" x="432.8" y="541.8"/><use href="#m" x="385.5" y="549.3"/><use href="#m" x="408.7" y="577.9"/><use href="#m" x="429.3" y="583.9"/><use href="#m" x="382.5" y="586.1"/><use href="#m" x="388.5" y="585.1"/><use href="#m" x="396.4" y="592.1"/><use href="#m" x="376.6" y="596.1"/><use href="#m" x="435.5" y="607.8"/><use href="#m" x="422.8" y="622.7"/><use href="#m" x="402.7" y="627.9"/><use href="#m" x="415.8" y="635.8"/><use href="#m" x="381.5" y="654.8"/><use href="#m" x="387.8" y="664.2"/><use href="#m" x="424.0" y="660.0"/><use href="#m" x="395.2" y="683.1"/><use href="#m" x="402.7" y="678.7"/><use href="#m" x="416.4" y="686.9"/><use href="#m" x="430.3" y="683.9"/><use href="#m" x="409.4" y="702.5"/><use href="#m" x="397.9" y="708.5"/><use href="#m" x="388.5" y="716.0"/><use href="#m" x="422.8" y="723.4"/><use href="#m" x="414.0" y="747.5"/><use href="#m" x="405.4" y="765.4"/><use href="#m" x="405.4" y="855.3"/><use href="#m" x="560.5" y="155.7"/><use href="#m" x="560.5" y="218.4"/><use href="#m" x="544.1" y="260.6"/><use href="#m" x="577.8" y="262.5"/><use href="#m" x="552.7" y="274.0"/><use href="#m" x="568.8" y="272.1"/><use href="#m" x="551.2" y="289.4"/><use href="#m" x="559.9" y="300.9"/><use href="#m" x="570.6" y="298.4"/><use href="#m" x="588.1" y="351.8"/><use href="#m" x="594.0" y="350.5"/><use href="#m" x="527.4" y="376.7"/><use href="#m" x="533.7" y="382.6"/><use href="#m" x="540.5" y="379.2"/><use href="#m" x="557.3" y="372.9"/><use href="#m" x="561.5" y="379.6"/><use href="#m" x="567.4" y="383.0"/><use href="#m" x="570.4" y="386.0"/><use href="#m" x="578.0" y="377.1"/><use href="#m" x="582.6" y="377.9"/><use href="#m" x="551.0" y="390.6"/><use href="#m" x="545.1" y="405.3"/><use href="#m" x="537.8" y="417.2"/><use href="#m" x="578.0" y="416.7"/><use href="#m" x="590.6" y="423.1"/><use href="#m" x="557.7" y="425.6"/><use href="#m" x="543.8" y="438.2"/><use href="#m" x="570.4" y="438.2"/><use href="#m" x="563.9" y="463.0"/><use href="#m" x="531.5" y="476.7"/><use href="#m" x="551.5" y="477.5"/><use href="#m" x="584.1" y="477.5"/><use href="#m" x="581.1" y="491.9"/><use href="#m" x="587.0" y="493.1"/><use href="#m" x="554.4" y="504.6"/><use href="#m" x="547.5" y="512.5"/><use href="#m" x="541.5" y="517.5"/><use href="#m" x="533.3" y="522.3"/><use href="#m" x="574.2" y="537.5"/><use href="#m" x="559.0" y="543.0"/><use href="#m" x="567.0" y="545.5"/><use href="#m" x="539.2" y="548.1"/><use href="#m" x="532.4" y="554.8"/><use href="#m" x="544.7" y="557.3"/><use href="#m" x="550.6" y="556.5"/><use href="#m" x="556.5" y="553.1"/><use href="#m" x="560.3" y="564.9"/><use href="#m" x="528.6" y="566.6"/><use href="#m" x="523.6" y="578.0"/><use href="#m" x="575.0" y="567.5"/><use href="#m" x="582.6" y="564.1"/><use href="#m" x="597.8" y="554.0"/><use href="#m" x="592.7" y="572.9"/><use href="#m" x="565.7" y="579.7"/><use href="#m" x="571.6" y="583.1"/><use href="#m" x="587.8" y="604.3"/><use href="#m" x="549.0" y="618.2"/><use href="#m" x="572.9" y="616.7"/><use href="#m" x="541.5" y="637.9"/><use href="#m" x="580.3" y="639.1"/><use href="#m" x="565.6" y="666.5"/><use href="#m" x="556.5" y="675.9"/><use href="#m" x="556.5" y="752.7"/><use href="#m" x="565.6" y="795.1"/><use href="#m" x="720.1" y="94.6"/><use href="#m" x="728.9" y="136.9"/><use href="#m" x="711.7" y="143.1"/><use href="#m" x="702.5" y="149.9"/><use href="#m" x="716.4" y="181.6"/><use href="#m" x="728.9" y="256.7"/><use href="#m" x="708.9" y="260.7"/><use href="#m" x="695.5" y="263.7"/><use href="#m" x="688.3" y="269.7"/><use href="#m" x="722.6" y="275.4"/><use href="#m" x="736.4" y="283.1"/><use href="#m" x="716.2" y="286.9"/><use href="#m" x="702.5" y="299.6"/><use href="#m" x="742.8" y="310.4"/><use href="#m" x="727.6" y="333.1"/><use href="#m" x="711.4" y="337.6"/><use href="#m" x="735.3" y="343.5"/><use href="#m" x="704.0" y="349.5"/><use href="#m" x="720.0" y="367.6"/><use href="#m" x="696.5" y="379.1"/><use href="#m" x="738.8" y="391.5"/><use href="#m" x="706.2" y="395.2"/><use href="#m" x="698.5" y="397.9"/><use href="#m" x="725.3" y="426.6"/><use href="#m" x="745.5" y="429.3"/><use href="#m" x="686.1" y="444.0"/><use href="#m" x="718.9" y="454.2"/><use href="#m" x="693.1" y="459.0"/><use href="#m" x="732.8" y="462.7"/><use href="#m" x="712.5" y="466.1"/><use href="#m" x="718.9" y="473.6"/><use href="#m" x="742.8" y="471.6"/><use href="#m" x="706.5" y="480.6"/><use href="#m" x="731.3" y="490.7"/><use href="#m" x="700.6" y="498.2"/><use href="#m" x="736.8" y="497.9"/><use href="#m" x="749.2" y="500.4"/><use href="#m" x="694.6" y="504.9"/><use href="#m" x="712.9" y="506.4"/><use href="#m" x="682.3" y="522.4"/><use href="#m" x="689.1" y="529.6"/><use href="#m" x="725.3" y="534.3"/><use href="#m" x="695.3" y="546.7"/><use href="#m" x="716.7" y="559.1"/><use href="#m" x="736.8" y="563.9"/><use href="#m" x="702.9" y="571.3"/><use href="#m" x="728.9" y="576.6"/><use href="#m" x="708.9" y="593.0"/><use href="#m" x="742.8" y="595.5"/><use href="#m" x="689.0" y="610.5"/><use href="#m" x="722.8" y="614.1"/><use href="#m" x="716.7" y="627.6"/><use href="#m" x="732.8" y="626.6"/><use href="#m" x="707.5" y="641.7"/><use href="#m" x="723.8" y="655.4"/><use href="#m" x="698.9" y="666.7"/><use href="#m" x="728.9" y="701.6"/><use href="#m" x="711.3" y="706.3"/><use href="#m" x="702.6" y="750.2"/><use href="#m" x="720.2" y="767.9"/><use href="#m" x="716.6" y="792.9"/><use href="#m" x="725.3" y="809.0"/><use href="#m" x="706.2" y="836.4"/><use href="#m" x="871.4" y="70.6"/><use href="#m" x="871.4" y="199.3"/><use href="#m" x="875.1" y="226.9"/><use href="#m" x="851.1" y="239.3"/><use href="#m" x="859.0" y="245.8"/><use href="#m" x="882.6" y="253.0"/><use href="#m" x="866.4" y="273.1"/><use href="#m" x="889.9" y="280.6"/><use href="#m" x="857.5" y="285.8"/><use href="#m" x="902.7" y="297.0"/><use href="#m" x="889.9" y="304.5"/><use href="#m" x="838.8" y="308.2"/><use href="#m" x="863.5" y="317.2"/><use href="#m" x="870.5" y="319.4"/><use href="#m" x="877.3" y="323.9"/><use href="#m" x="883.9" y="321.6"/><use href="#m" x="845.1" y="331.0"/><use href="#m" x="851.1" y="340.5"/><use href="#m" x="896.3" y="333.2"/><use href="#m" x="895.3" y="355.4"/><use href="#m" x="888.8" y="367.0"/><use href="#m" x="852.6" y="384.0"/><use href="#m" x="860.5" y="388.2"/><use href="#m" x="867.5" y="402.4"/><use href="#m" x="846.0" y="420.3"/><use href="#m" x="881.4" y="419.3"/><use href="#m" x="873.9" y="426.3"/><use href="#m" x="842.6" y="459.1"/><use href="#m" x="849.3" y="458.4"/><use href="#m" x="863.5" y="465.1"/><use href="#m" x="870.9" y="464.3"/><use href="#m" x="883.6" y="471.8"/><use href="#m" x="877.3" y="487.9"/><use href="#m" x="890.8" y="491.2"/><use href="#m" x="897.3" y="488.2"/><use href="#m" x="857.9" y="493.4"/><use href="#m" x="858.2" y="503.9"/><use href="#m" x="848.1" y="510.6"/><use href="#m" x="853.8" y="512.8"/><use href="#m" x="832.6" y="512.8"/><use href="#m" x="878.8" y="516.6"/><use href="#m" x="898.5" y="515.1"/><use href="#m" x="903.8" y="520.3"/><use href="#m" x="842.6" y="534.2"/><use href="#m" x="867.5" y="537.5"/><use href="#m" x="894.1" y="536.7"/><use href="#m" x="909.0" y="536.7"/><use href="#m" x="889.6" y="541.9"/><use href="#m" x="884.4" y="547.2"/><use href="#m" x="837.6" y="550.6"/><use href="#m" x="873.9" y="553.1"/><use href="#m" x="862.4" y="558.1"/><use href="#m" x="866.4" y="599.4"/><use href="#m" x="883.9" y="616.6"/><use href="#m" x="857.9" y="633.8"/><use href="#m" x="875.2" y="635.2"/><use href="#m" x="853.6" y="645.3"/><use href="#m" x="887.5" y="651.8"/><use href="#m" x="862.2" y="657.6"/><use href="#m" x="871.2" y="668.0"/><use href="#m" x="878.8" y="706.3"/><use href="#m" x="874.9" y="740.2"/><use href="#m" x="866.3" y="764.0"/><use href="#m" x="1021.4" y="118.1"/><use href="#m" x="1030.1" y="118.1"/><use href="#m" x="1008.8" y="200.4"/><use href="#m" x="1017.7" y="209.4"/><use href="#m" x="1042.8" y="224.3"/><use href="#m" x="1025.2" y="252.0"/><use href="#m" x="1034.1" y="250.4"/><use href="#m" x="1026.7" y="257.9"/><use href="#m" x="1044.9" y="264.3"/><use href="#m" x="1005.5" y="276.6"/><use href="#m" x="1012.5" y="272.8"/><use href="#m" x="1038.9" y="281.8"/><use href="#m" x="1032.6" y="305.7"/><use href="#m" x="1050.6" y="311.6"/><use href="#m" x="1057.7" y="316.9"/><use href="#m" x="999.5" y="319.1"/><use href="#m" x="993.1" y="322.1"/><use href="#m" x="1018.5" y="318.1"/><use href="#m" x="1008.8" y="349.0"/><use href="#m" x="1002.0" y="354.2"/><use href="#m" x="1034.9" y="363.1"/><use href="#m" x="1042.3" y="369.1"/><use href="#m" x="1048.8" y="374.3"/><use href="#m" x="1016.1" y="381.1"/><use href="#m" x="1023.0" y="385.6"/><use href="#m" x="1028.9" y="391.6"/><use href="#m" x="996.1" y="391.6"/><use href="#m" x="1055.3" y="396.6"/><use href="#m" x="995.0" y="410.3"/><use href="#m" x="1017.7" y="421.5"/><use href="#m" x="1011.4" y="436.4"/><use href="#m" x="1005.8" y="446.1"/><use href="#m" x="1001.0" y="454.8"/><use href="#m" x="1033.8" y="447.9"/><use href="#m" x="1044.9" y="442.8"/><use href="#m" x="1028.9" y="470.0"/><use href="#m" x="1049.8" y="468.5"/><use href="#m" x="1056.5" y="474.5"/><use href="#m" x="1061.0" y="476.7"/><use href="#m" x="1022.2" y="478.7"/><use href="#m" x="1040.1" y="478.2"/><use href="#m" x="990.1" y="479.4"/><use href="#m" x="1021.4" y="497.6"/><use href="#m" x="1014.0" y="505.8"/><use href="#m" x="1037.9" y="514.0"/><use href="#m" x="1006.1" y="529.0"/><use href="#m" x="1030.0" y="530.4"/><use href="#m" x="1045.3" y="532.7"/><use href="#m" x="1030.0" y="555.1"/><use href="#m" x="1021.0" y="560.3"/><use href="#m" x="1012.5" y="580.4"/><use href="#m" x="1038.9" y="602.8"/><use href="#m" x="1033.8" y="632.7"/><use href="#m" x="1026.1" y="645.5"/><use href="#m" x="1042.7" y="649.0"/><use href="#m" x="1017.6" y="671.4"/><use href="#m" x="1008.8" y="686.5"/><use href="#m" x="1042.7" y="712.4"/><use href="#m" x="1033.7" y="717.6"/><use href="#m" x="1008.8" y="734.1"/><use href="#m" x="1017.6" y="734.1"/><use href="#m" x="1026.3" y="775.1"/><use href="#m" x="1026.3" y="807.8"/></g>
<path d="M97 42 V897.75 H1181" fill="none" stroke="#262626" stroke-width="1.6"/>
<path d="M97 42.0 H106 M97 149.0 H106 M97 256.0 H106 M97 363.0 H106 M97 470.0 H106 M97 577.0 H106 M97 684.0 H106 M97 791.0 H106 M97 898.0 H106 M251.4 897.75 V887.5 M406.4 897.75 V887.5 M561.4 897.75 V887.5 M716.4 897.75 V887.5 M871.4 897.75 V887.5 M1026.4 897.75 V887.5" fill="none" stroke="#262626" stroke-width="1.6"/>
<text x="85.9" y="51.6" text-anchor="end" class="tk">2</text>
<text x="85.9" y="158.6" text-anchor="end" class="tk">.5</text>
<path d="M60.10 157.80 L60.10 140.20 L58.70 140.20 C57.90 142.20 56.20 143.20 52.90 143.50 L52.90 146.00 C55.20 146.00 56.70 145.50 57.50 144.80 L57.50 157.80 Z" fill="#000"/>
<path d="M80.20 264.80 L80.20 247.20 L78.80 247.20 C78.00 249.20 76.30 250.20 73.00 250.50 L73.00 253.00 C75.30 253.00 76.80 252.50 77.60 251.80 L77.60 264.80 Z" fill="#000"/>
<text x="85.9" y="372.6" text-anchor="end" class="tk">0.5</text>
<text x="85.9" y="479.6" text-anchor="end" class="tk">0</text>
<text x="85.9" y="586.6" text-anchor="end" class="tk">0.5</text>
<rect x="43.9" y="578.3" width="7.8" height="2.4" fill="#000"/>
<path d="M80.20 692.80 L80.20 675.20 L78.80 675.20 C78.00 677.20 76.30 678.20 73.00 678.50 L73.00 681.00 C75.30 681.00 76.80 680.50 77.60 679.80 L77.60 692.80 Z" fill="#000"/>
<rect x="63.6" y="685.3" width="7.4" height="2.4" fill="#000"/>
<text x="85.9" y="800.6" text-anchor="end" class="tk">.5</text>
<path d="M60.10 799.80 L60.10 782.20 L58.70 782.20 C57.90 784.20 56.20 785.20 52.90 785.50 L52.90 788.00 C55.20 788.00 56.70 787.50 57.50 786.80 L57.50 799.80 Z" fill="#000"/>
<rect x="42.4" y="792.3" width="7.6" height="2.4" fill="#000"/>
<text x="85.9" y="907.6" text-anchor="end" class="tk">2</text>
<rect x="64.0" y="899.3" width="7.8" height="2.4" fill="#000"/>
<path d="M252.80 932.10 L252.80 914.50 L251.40 914.50 C250.60 916.50 248.90 917.50 245.60 917.80 L245.60 920.30 C247.90 920.30 249.40 919.80 250.20 919.10 L250.20 932.10 Z" fill="#000"/>
<text x="405.3" y="931.7" text-anchor="middle" class="tk">2</text>
<text x="560.3" y="931.7" text-anchor="middle" class="tk">3</text>
<text x="715.3" y="931.7" text-anchor="middle" class="tk">4</text>
<text x="870.3" y="931.7" text-anchor="middle" class="tk">5</text>
<text x="1025.3" y="931.7" text-anchor="middle" class="tk">6</text>
<text x="638" y="966.9" text-anchor="middle" class="lb">hours</text>
<text transform="translate(27.0 469.5) rotate(-90)" text-anchor="middle" class="lb">standardised mean</text>
<text transform="translate(638.3 31.8) scale(1 1.06)" text-anchor="middle" class="tt">(a)</text>
<line x1="251.1" y1="1317.8" x2="251.1" y2="1688.8" stroke="#0a0aff" stroke-width="4.6"/>
<line x1="406.0" y1="1328.5" x2="406.0" y2="1634.6" stroke="#0a0aff" stroke-width="4.6"/>
<line x1="560.9" y1="1361.0" x2="560.9" y2="1665.7" stroke="#0a0aff" stroke-width="4.6"/>
<line x1="715.8" y1="1337.5" x2="715.8" y2="1680.9" stroke="#0a0aff" stroke-width="4.6"/>
<line x1="870.7" y1="1356.3" x2="870.7" y2="1659.9" stroke="#0a0aff" stroke-width="4.6"/>
<line x1="1025.6" y1="1364.9" x2="1025.6" y2="1693.5" stroke="#0a0aff" stroke-width="4.6"/>
<rect x="216.5" y="1457.2" width="69.2" height="92.5" fill="#fd9898"/>
<rect x="371.4" y="1443.6" width="69.2" height="76.8" fill="#fd9898"/>
<rect x="526.3" y="1478.4" width="69.2" height="80.1" fill="#fd9898"/>
<rect x="681.2" y="1466.0" width="69.2" height="86.1" fill="#fd9898"/>
<rect x="836.1" y="1469.6" width="69.2" height="76.5" fill="#fd9898"/>
<rect x="991.0" y="1488.5" width="69.2" height="82.4" fill="#fd9898"/>
<g class="cf"><use href="#m" x="237.9" y="1163.6"/><use href="#m" x="264.4" y="1159.6"/><use href="#m" x="255.4" y="1181.0"/><use href="#m" x="246.9" y="1205.8"/><use href="#m" x="250.9" y="1220.3"/><use href="#m" x="242.7" y="1227.8"/><use href="#m" x="259.1" y="1234.8"/><use href="#m" x="234.1" y="1283.0"/><use href="#m" x="267.8" y="1288.2"/><use href="#m" x="240.5" y="1297.2"/><use href="#m" x="233.0" y="1313.3"/><use href="#m" x="269.3" y="1319.6"/><use href="#m" x="226.6" y="1332.2"/><use href="#m" x="253.9" y="1344.6"/><use href="#m" x="275.6" y="1346.1"/><use href="#m" x="247.5" y="1356.1"/><use href="#m" x="261.8" y="1362.1"/><use href="#m" x="272.9" y="1371.8"/><use href="#m" x="236.7" y="1374.8"/><use href="#m" x="229.2" y="1414.5"/><use href="#m" x="257.9" y="1412.0"/><use href="#m" x="243.5" y="1425.7"/><use href="#m" x="250.5" y="1425.7"/><use href="#m" x="265.4" y="1443.3"/><use href="#m" x="250.5" y="1454.9"/><use href="#m" x="273.3" y="1464.5"/><use href="#m" x="244.2" y="1482.8"/><use href="#m" x="265.9" y="1484.8"/><use href="#m" x="257.9" y="1491.0"/><use href="#m" x="236.7" y="1504.5"/><use href="#m" x="229.3" y="1516.4"/><use href="#m" x="230.5" y="1520.9"/><use href="#m" x="257.9" y="1534.3"/><use href="#m" x="244.2" y="1541.8"/><use href="#m" x="263.9" y="1551.0"/><use href="#m" x="277.8" y="1553.0"/><use href="#m" x="224.1" y="1563.4"/><use href="#m" x="250.5" y="1561.9"/><use href="#m" x="271.8" y="1569.4"/><use href="#m" x="237.9" y="1584.3"/><use href="#m" x="237.9" y="1600.7"/><use href="#m" x="224.1" y="1614.6"/><use href="#m" x="250.5" y="1620.6"/><use href="#m" x="257.9" y="1623.9"/><use href="#m" x="230.5" y="1634.3"/><use href="#m" x="243.9" y="1638.5"/><use href="#m" x="263.6" y="1635.5"/><use href="#m" x="270.8" y="1638.8"/><use href="#m" x="277.8" y="1639.6"/><use href="#m" x="268.0" y="1671.8"/><use href="#m" x="242.9" y="1690.8"/><use href="#m" x="234.5" y="1720.4"/><use href="#m" x="259.1" y="1718.0"/><use href="#m" x="250.5" y="1738.2"/><use href="#m" x="237.8" y="1753.3"/><use href="#m" x="246.6" y="1758.0"/><use href="#m" x="255.3" y="1754.2"/><use href="#m" x="264.3" y="1758.0"/><use href="#m" x="260.5" y="1845.7"/><use href="#m" x="241.7" y="1865.6"/><use href="#m" x="250.5" y="1887.9"/><use href="#m" x="401.6" y="1108.7"/><use href="#m" x="410.4" y="1162.4"/><use href="#m" x="410.4" y="1192.2"/><use href="#m" x="401.6" y="1210.9"/><use href="#m" x="405.7" y="1246.0"/><use href="#m" x="396.7" y="1257.2"/><use href="#m" x="415.4" y="1294.5"/><use href="#m" x="388.1" y="1313.1"/><use href="#m" x="403.0" y="1312.4"/><use href="#m" x="423.9" y="1312.4"/><use href="#m" x="381.5" y="1323.6"/><use href="#m" x="430.3" y="1331.0"/><use href="#m" x="409.0" y="1341.5"/><use href="#m" x="395.2" y="1346.4"/><use href="#m" x="416.4" y="1361.5"/><use href="#m" x="423.9" y="1379.3"/><use href="#m" x="430.3" y="1385.5"/><use href="#m" x="387.8" y="1385.4"/><use href="#m" x="381.0" y="1389.9"/><use href="#m" x="395.2" y="1395.8"/><use href="#m" x="416.4" y="1408.1"/><use href="#m" x="401.9" y="1420.4"/><use href="#m" x="409.0" y="1421.9"/><use href="#m" x="385.5" y="1445.8"/><use href="#m" x="392.5" y="1446.9"/><use href="#m" x="412.8" y="1464.5"/><use href="#m" x="433.3" y="1461.8"/><use href="#m" x="426.6" y="1472.2"/><use href="#m" x="399.0" y="1482.1"/><use href="#m" x="419.1" y="1484.6"/><use href="#m" x="405.4" y="1492.5"/><use href="#m" x="378.8" y="1493.1"/><use href="#m" x="387.8" y="1502.5"/><use href="#m" x="416.9" y="1504.5"/><use href="#m" x="423.6" y="1504.5"/><use href="#m" x="430.3" y="1521.9"/><use href="#m" x="395.2" y="1536.9"/><use href="#m" x="402.7" y="1539.1"/><use href="#m" x="409.4" y="1545.8"/><use href="#m" x="381.5" y="1559.3"/><use href="#m" x="391.5" y="1596.6"/><use href="#m" x="405.4" y="1597.0"/><use href="#m" x="384.0" y="1604.8"/><use href="#m" x="399.0" y="1611.5"/><use href="#m" x="412.8" y="1617.5"/><use href="#m" x="420.6" y="1613.0"/><use href="#m" x="427.8" y="1613.4"/><use href="#m" x="439.2" y="1634.4"/><use href="#m" x="385.3" y="1639.2"/><use href="#m" x="409.0" y="1644.4"/><use href="#m" x="426.6" y="1650.9"/><use href="#m" x="379.3" y="1654.7"/><use href="#m" x="372.7" y="1662.4"/><use href="#m" x="396.7" y="1655.4"/><use href="#m" x="421.4" y="1657.4"/><use href="#m" x="390.6" y="1674.4"/><use href="#m" x="432.8" y="1672.9"/><use href="#m" x="402.9" y="1696.0"/><use href="#m" x="415.5" y="1696.6"/><use href="#m" x="410.6" y="1713.2"/><use href="#m" x="401.7" y="1723.3"/><use href="#m" x="565.4" y="1200.9"/><use href="#m" x="556.4" y="1234.8"/><use href="#m" x="572.9" y="1258.4"/><use href="#m" x="549.0" y="1264.6"/><use href="#m" x="541.5" y="1278.5"/><use href="#m" x="580.3" y="1298.4"/><use href="#m" x="565.4" y="1315.8"/><use href="#m" x="556.4" y="1318.4"/><use href="#m" x="560.5" y="1331.5"/><use href="#m" x="544.1" y="1336.3"/><use href="#m" x="578.1" y="1359.6"/><use href="#m" x="568.8" y="1368.8"/><use href="#m" x="552.7" y="1396.9"/><use href="#m" x="528.8" y="1402.7"/><use href="#m" x="541.0" y="1408.3"/><use href="#m" x="547.5" y="1407.6"/><use href="#m" x="586.5" y="1400.5"/><use href="#m" x="567.7" y="1412.0"/><use href="#m" x="580.3" y="1437.6"/><use href="#m" x="593.0" y="1438.1"/><use href="#m" x="573.6" y="1444.8"/><use href="#m" x="560.2" y="1453.4"/><use href="#m" x="535.1" y="1467.2"/><use href="#m" x="540.5" y="1474.6"/><use href="#m" x="553.9" y="1469.4"/><use href="#m" x="581.8" y="1476.4"/><use href="#m" x="573.9" y="1485.1"/><use href="#m" x="533.6" y="1485.1"/><use href="#m" x="553.9" y="1518.7"/><use href="#m" x="547.0" y="1528.4"/><use href="#m" x="560.5" y="1527.6"/><use href="#m" x="567.9" y="1529.9"/><use href="#m" x="544.1" y="1541.0"/><use href="#m" x="587.8" y="1537.0"/><use href="#m" x="531.5" y="1556.0"/><use href="#m" x="551.2" y="1555.2"/><use href="#m" x="557.9" y="1551.5"/><use href="#m" x="564.4" y="1553.7"/><use href="#m" x="590.3" y="1565.7"/><use href="#m" x="570.3" y="1570.9"/><use href="#m" x="584.1" y="1585.8"/><use href="#m" x="537.8" y="1600.7"/><use href="#m" x="577.8" y="1610.4"/><use href="#m" x="563.9" y="1614.2"/><use href="#m" x="570.3" y="1618.7"/><use href="#m" x="551.5" y="1632.1"/><use href="#m" x="537.8" y="1640.6"/><use href="#m" x="577.8" y="1635.5"/><use href="#m" x="590.3" y="1639.6"/><use href="#m" x="584.1" y="1644.8"/><use href="#m" x="531.5" y="1665.7"/><use href="#m" x="557.6" y="1672.2"/><use href="#m" x="544.0" y="1678.5"/><use href="#m" x="560.1" y="1690.6"/><use href="#m" x="570.4" y="1691.7"/><use href="#m" x="551.7" y="1733.4"/><use href="#m" x="570.5" y="1755.6"/><use href="#m" x="551.7" y="1801.6"/><use href="#m" x="560.3" y="1820.7"/><use href="#m" x="556.6" y="1854.5"/><use href="#m" x="565.3" y="1891.4"/><use href="#m" x="720.1" y="1107.2"/><use href="#m" x="702.9" y="1130.6"/><use href="#m" x="728.9" y="1137.5"/><use href="#m" x="711.4" y="1148.5"/><use href="#m" x="720.1" y="1234.5"/><use href="#m" x="711.4" y="1241.5"/><use href="#m" x="716.2" y="1260.9"/><use href="#m" x="732.8" y="1263.4"/><use href="#m" x="707.7" y="1277.3"/><use href="#m" x="723.8" y="1310.9"/><use href="#m" x="699.1" y="1328.5"/><use href="#m" x="702.9" y="1365.0"/><use href="#m" x="711.4" y="1388.7"/><use href="#m" x="720.0" y="1398.1"/><use href="#m" x="728.9" y="1395.7"/><use href="#m" x="698.0" y="1424.5"/><use href="#m" x="718.9" y="1438.4"/><use href="#m" x="712.9" y="1452.1"/><use href="#m" x="733.8" y="1460.3"/><use href="#m" x="740.3" y="1472.7"/><use href="#m" x="691.3" y="1476.7"/><use href="#m" x="726.4" y="1479.7"/><use href="#m" x="705.5" y="1496.1"/><use href="#m" x="679.1" y="1504.3"/><use href="#m" x="731.6" y="1504.0"/><use href="#m" x="737.6" y="1504.3"/><use href="#m" x="742.3" y="1514.8"/><use href="#m" x="753.2" y="1510.6"/><use href="#m" x="727.1" y="1520.7"/><use href="#m" x="716.4" y="1523.0"/><use href="#m" x="700.3" y="1523.7"/><use href="#m" x="693.5" y="1529.7"/><use href="#m" x="710.4" y="1533.4"/><use href="#m" x="689.1" y="1543.1"/><use href="#m" x="705.0" y="1543.9"/><use href="#m" x="683.8" y="1554.8"/><use href="#m" x="721.9" y="1563.3"/><use href="#m" x="747.7" y="1565.5"/><use href="#m" x="702.5" y="1583.1"/><use href="#m" x="716.7" y="1583.4"/><use href="#m" x="690.1" y="1596.1"/><use href="#m" x="708.9" y="1597.2"/><use href="#m" x="728.9" y="1596.6"/><use href="#m" x="721.4" y="1606.6"/><use href="#m" x="735.3" y="1609.6"/><use href="#m" x="742.3" y="1611.5"/><use href="#m" x="748.0" y="1613.3"/><use href="#m" x="696.5" y="1618.5"/><use href="#m" x="684.0" y="1653.3"/><use href="#m" x="711.4" y="1655.6"/><use href="#m" x="727.8" y="1670.8"/><use href="#m" x="696.5" y="1678.2"/><use href="#m" x="720.1" y="1689.6"/><use href="#m" x="735.5" y="1690.9"/><use href="#m" x="703.7" y="1714.5"/><use href="#m" x="698.8" y="1745.6"/><use href="#m" x="716.5" y="1750.7"/><use href="#m" x="732.7" y="1751.8"/><use href="#m" x="707.7" y="1772.9"/><use href="#m" x="723.8" y="1793.4"/><use href="#m" x="716.5" y="1832.7"/><use href="#m" x="871.4" y="1186.1"/><use href="#m" x="866.4" y="1242.1"/><use href="#m" x="883.9" y="1258.5"/><use href="#m" x="857.5" y="1263.3"/><use href="#m" x="875.1" y="1292.1"/><use href="#m" x="856.7" y="1302.1"/><use href="#m" x="866.4" y="1304.8"/><use href="#m" x="883.9" y="1319.7"/><use href="#m" x="875.1" y="1334.6"/><use href="#m" x="847.8" y="1366.0"/><use href="#m" x="853.8" y="1366.7"/><use href="#m" x="868.4" y="1368.2"/><use href="#m" x="861.5" y="1374.9"/><use href="#m" x="887.3" y="1384.6"/><use href="#m" x="894.1" y="1383.1"/><use href="#m" x="900.3" y="1395.8"/><use href="#m" x="873.9" y="1398.5"/><use href="#m" x="841.5" y="1413.4"/><use href="#m" x="843.6" y="1424.9"/><use href="#m" x="857.5" y="1430.0"/><use href="#m" x="880.3" y="1421.9"/><use href="#m" x="897.8" y="1436.8"/><use href="#m" x="871.4" y="1452.8"/><use href="#m" x="891.4" y="1455.8"/><use href="#m" x="877.6" y="1464.0"/><use href="#m" x="883.9" y="1474.5"/><use href="#m" x="847.8" y="1488.2"/><use href="#m" x="850.0" y="1486.7"/><use href="#m" x="863.9" y="1486.0"/><use href="#m" x="887.3" y="1495.7"/><use href="#m" x="900.0" y="1500.9"/><use href="#m" x="841.5" y="1506.9"/><use href="#m" x="853.8" y="1509.9"/><use href="#m" x="867.9" y="1506.1"/><use href="#m" x="861.2" y="1540.4"/><use href="#m" x="873.9" y="1544.9"/><use href="#m" x="880.3" y="1540.1"/><use href="#m" x="893.8" y="1548.2"/><use href="#m" x="867.5" y="1556.9"/><use href="#m" x="859.7" y="1561.0"/><use href="#m" x="888.8" y="1564.3"/><use href="#m" x="895.3" y="1567.0"/><use href="#m" x="852.6" y="1575.5"/><use href="#m" x="873.9" y="1573.3"/><use href="#m" x="846.3" y="1591.9"/><use href="#m" x="881.4" y="1603.1"/><use href="#m" x="871.4" y="1624.8"/><use href="#m" x="854.1" y="1653.1"/><use href="#m" x="878.8" y="1653.9"/><use href="#m" x="887.8" y="1668.1"/><use href="#m" x="862.7" y="1675.5"/><use href="#m" x="862.7" y="1682.2"/><use href="#m" x="854.0" y="1694.7"/><use href="#m" x="887.8" y="1694.4"/><use href="#m" x="871.4" y="1713.0"/><use href="#m" x="878.9" y="1725.4"/><use href="#m" x="879.0" y="1749.5"/><use href="#m" x="871.3" y="1775.6"/><use href="#m" x="853.8" y="1794.5"/><use href="#m" x="862.6" y="1804.4"/><use href="#m" x="887.7" y="1801.8"/><use href="#m" x="1026.4" y="1089.7"/><use href="#m" x="1026.4" y="1174.8"/><use href="#m" x="1022.5" y="1263.3"/><use href="#m" x="1036.8" y="1269.3"/><use href="#m" x="1028.9" y="1278.8"/><use href="#m" x="1001.0" y="1291.9"/><use href="#m" x="1015.0" y="1297.2"/><use href="#m" x="1043.8" y="1309.6"/><use href="#m" x="1050.3" y="1318.5"/><use href="#m" x="1007.6" y="1340.9"/><use href="#m" x="1026.4" y="1352.3"/><use href="#m" x="1009.1" y="1383.6"/><use href="#m" x="1033.8" y="1404.5"/><use href="#m" x="1042.8" y="1413.4"/><use href="#m" x="1017.7" y="1426.9"/><use href="#m" x="1008.8" y="1440.7"/><use href="#m" x="1060.3" y="1434.3"/><use href="#m" x="1020.0" y="1479.6"/><use href="#m" x="1042.8" y="1482.8"/><use href="#m" x="1049.1" y="1482.1"/><use href="#m" x="995.6" y="1493.3"/><use href="#m" x="1002.5" y="1493.3"/><use href="#m" x="1026.4" y="1495.5"/><use href="#m" x="1031.1" y="1499.3"/><use href="#m" x="1055.3" y="1503.4"/><use href="#m" x="990.9" y="1510.9"/><use href="#m" x="1014.0" y="1517.2"/><use href="#m" x="1037.9" y="1518.4"/><use href="#m" x="989.4" y="1526.9"/><use href="#m" x="995.6" y="1527.6"/><use href="#m" x="1009.1" y="1530.3"/><use href="#m" x="1020.4" y="1525.8"/><use href="#m" x="1042.8" y="1534.3"/><use href="#m" x="1049.1" y="1545.8"/><use href="#m" x="1026.7" y="1548.5"/><use href="#m" x="1031.1" y="1552.2"/><use href="#m" x="1060.3" y="1559.7"/><use href="#m" x="1037.9" y="1581.6"/><use href="#m" x="1055.3" y="1583.1"/><use href="#m" x="1002.8" y="1603.7"/><use href="#m" x="1014.0" y="1604.5"/><use href="#m" x="999.1" y="1609.7"/><use href="#m" x="1041.4" y="1616.4"/><use href="#m" x="1028.8" y="1623.2"/><use href="#m" x="992.4" y="1634.4"/><use href="#m" x="1005.0" y="1652.8"/><use href="#m" x="1009.9" y="1666.8"/><use href="#m" x="1016.0" y="1677.4"/><use href="#m" x="1022.5" y="1674.2"/><use href="#m" x="1046.3" y="1671.7"/><use href="#m" x="1052.6" y="1672.2"/><use href="#m" x="1059.1" y="1671.7"/><use href="#m" x="1034.8" y="1689.7"/><use href="#m" x="1042.7" y="1703.4"/><use href="#m" x="1017.6" y="1724.2"/><use href="#m" x="1034.0" y="1720.4"/><use href="#m" x="1026.3" y="1749.3"/><use href="#m" x="1008.9" y="1762.0"/><use href="#m" x="1029.9" y="1833.0"/><use href="#m" x="1021.4" y="1848.1"/><use href="#m" x="1026.3" y="1898.1"/></g>
<rect x="217.0" y="1457.7" width="68.2" height="91.5" fill="none" stroke="#e98282" stroke-width="1"/>
<rect x="371.9" y="1444.1" width="68.2" height="75.8" fill="none" stroke="#e98282" stroke-width="1"/>
<rect x="526.8" y="1478.9" width="68.2" height="79.1" fill="none" stroke="#e98282" stroke-width="1"/>
<rect x="681.7" y="1466.5" width="68.2" height="85.1" fill="none" stroke="#e98282" stroke-width="1"/>
<rect x="836.6" y="1470.1" width="68.2" height="75.5" fill="none" stroke="#e98282" stroke-width="1"/>
<rect x="991.5" y="1489.0" width="68.2" height="81.4" fill="none" stroke="#e98282" stroke-width="1"/>
<line x1="217.0" y1="1503.3" x2="285.2" y2="1503.3" stroke="#ff0000" stroke-width="4.6"/>
<line x1="371.9" y1="1482.1" x2="440.1" y2="1482.1" stroke="#ff0000" stroke-width="4.6"/>
<line x1="526.8" y1="1518.7" x2="595.0" y2="1518.7" stroke="#ff0000" stroke-width="4.6"/>
<line x1="681.7" y1="1508.8" x2="749.9" y2="1508.8" stroke="#ff0000" stroke-width="4.6"/>
<line x1="836.6" y1="1507.9" x2="904.8" y2="1507.9" stroke="#ff0000" stroke-width="4.6"/>
<line x1="991.5" y1="1529.1" x2="1059.7" y2="1529.1" stroke="#ff0000" stroke-width="4.6"/>
<g class="co"><use href="#m" x="237.9" y="1163.6"/><use href="#m" x="264.4" y="1159.6"/><use href="#m" x="255.4" y="1181.0"/><use href="#m" x="246.9" y="1205.8"/><use href="#m" x="250.9" y="1220.3"/><use href="#m" x="242.7" y="1227.8"/><use href="#m" x="259.1" y="1234.8"/><use href="#m" x="234.1" y="1283.0"/><use href="#m" x="267.8" y="1288.2"/><use href="#m" x="240.5" y="1297.2"/><use href="#m" x="233.0" y="1313.3"/><use href="#m" x="269.3" y="1319.6"/><use href="#m" x="226.6" y="1332.2"/><use href="#m" x="253.9" y="1344.6"/><use href="#m" x="275.6" y="1346.1"/><use href="#m" x="247.5" y="1356.1"/><use href="#m" x="261.8" y="1362.1"/><use href="#m" x="272.9" y="1371.8"/><use href="#m" x="236.7" y="1374.8"/><use href="#m" x="229.2" y="1414.5"/><use href="#m" x="257.9" y="1412.0"/><use href="#m" x="243.5" y="1425.7"/><use href="#m" x="250.5" y="1425.7"/><use href="#m" x="265.4" y="1443.3"/><use href="#m" x="250.5" y="1454.9"/><use href="#m" x="273.3" y="1464.5"/><use href="#m" x="244.2" y="1482.8"/><use href="#m" x="265.9" y="1484.8"/><use href="#m" x="257.9" y="1491.0"/><use href="#m" x="236.7" y="1504.5"/><use href="#m" x="229.3" y="1516.4"/><use href="#m" x="230.5" y="1520.9"/><use href="#m" x="257.9" y="1534.3"/><use href="#m" x="244.2" y="1541.8"/><use href="#m" x="263.9" y="1551.0"/><use href="#m" x="277.8" y="1553.0"/><use href="#m" x="224.1" y="1563.4"/><use href="#m" x="250.5" y="1561.9"/><use href="#m" x="271.8" y="1569.4"/><use href="#m" x="237.9" y="1584.3"/><use href="#m" x="237.9" y="1600.7"/><use href="#m" x="224.1" y="1614.6"/><use href="#m" x="250.5" y="1620.6"/><use href="#m" x="257.9" y="1623.9"/><use href="#m" x="230.5" y="1634.3"/><use href="#m" x="243.9" y="1638.5"/><use href="#m" x="263.6" y="1635.5"/><use href="#m" x="270.8" y="1638.8"/><use href="#m" x="277.8" y="1639.6"/><use href="#m" x="268.0" y="1671.8"/><use href="#m" x="242.9" y="1690.8"/><use href="#m" x="234.5" y="1720.4"/><use href="#m" x="259.1" y="1718.0"/><use href="#m" x="250.5" y="1738.2"/><use href="#m" x="237.8" y="1753.3"/><use href="#m" x="246.6" y="1758.0"/><use href="#m" x="255.3" y="1754.2"/><use href="#m" x="264.3" y="1758.0"/><use href="#m" x="260.5" y="1845.7"/><use href="#m" x="241.7" y="1865.6"/><use href="#m" x="250.5" y="1887.9"/><use href="#m" x="401.6" y="1108.7"/><use href="#m" x="410.4" y="1162.4"/><use href="#m" x="410.4" y="1192.2"/><use href="#m" x="401.6" y="1210.9"/><use href="#m" x="405.7" y="1246.0"/><use href="#m" x="396.7" y="1257.2"/><use href="#m" x="415.4" y="1294.5"/><use href="#m" x="388.1" y="1313.1"/><use href="#m" x="403.0" y="1312.4"/><use href="#m" x="423.9" y="1312.4"/><use href="#m" x="381.5" y="1323.6"/><use href="#m" x="430.3" y="1331.0"/><use href="#m" x="409.0" y="1341.5"/><use href="#m" x="395.2" y="1346.4"/><use href="#m" x="416.4" y="1361.5"/><use href="#m" x="423.9" y="1379.3"/><use href="#m" x="430.3" y="1385.5"/><use href="#m" x="387.8" y="1385.4"/><use href="#m" x="381.0" y="1389.9"/><use href="#m" x="395.2" y="1395.8"/><use href="#m" x="416.4" y="1408.1"/><use href="#m" x="401.9" y="1420.4"/><use href="#m" x="409.0" y="1421.9"/><use href="#m" x="385.5" y="1445.8"/><use href="#m" x="392.5" y="1446.9"/><use href="#m" x="412.8" y="1464.5"/><use href="#m" x="433.3" y="1461.8"/><use href="#m" x="426.6" y="1472.2"/><use href="#m" x="399.0" y="1482.1"/><use href="#m" x="419.1" y="1484.6"/><use href="#m" x="405.4" y="1492.5"/><use href="#m" x="378.8" y="1493.1"/><use href="#m" x="387.8" y="1502.5"/><use href="#m" x="416.9" y="1504.5"/><use href="#m" x="423.6" y="1504.5"/><use href="#m" x="430.3" y="1521.9"/><use href="#m" x="395.2" y="1536.9"/><use href="#m" x="402.7" y="1539.1"/><use href="#m" x="409.4" y="1545.8"/><use href="#m" x="381.5" y="1559.3"/><use href="#m" x="391.5" y="1596.6"/><use href="#m" x="405.4" y="1597.0"/><use href="#m" x="384.0" y="1604.8"/><use href="#m" x="399.0" y="1611.5"/><use href="#m" x="412.8" y="1617.5"/><use href="#m" x="420.6" y="1613.0"/><use href="#m" x="427.8" y="1613.4"/><use href="#m" x="439.2" y="1634.4"/><use href="#m" x="385.3" y="1639.2"/><use href="#m" x="409.0" y="1644.4"/><use href="#m" x="426.6" y="1650.9"/><use href="#m" x="379.3" y="1654.7"/><use href="#m" x="372.7" y="1662.4"/><use href="#m" x="396.7" y="1655.4"/><use href="#m" x="421.4" y="1657.4"/><use href="#m" x="390.6" y="1674.4"/><use href="#m" x="432.8" y="1672.9"/><use href="#m" x="402.9" y="1696.0"/><use href="#m" x="415.5" y="1696.6"/><use href="#m" x="410.6" y="1713.2"/><use href="#m" x="401.7" y="1723.3"/><use href="#m" x="565.4" y="1200.9"/><use href="#m" x="556.4" y="1234.8"/><use href="#m" x="572.9" y="1258.4"/><use href="#m" x="549.0" y="1264.6"/><use href="#m" x="541.5" y="1278.5"/><use href="#m" x="580.3" y="1298.4"/><use href="#m" x="565.4" y="1315.8"/><use href="#m" x="556.4" y="1318.4"/><use href="#m" x="560.5" y="1331.5"/><use href="#m" x="544.1" y="1336.3"/><use href="#m" x="578.1" y="1359.6"/><use href="#m" x="568.8" y="1368.8"/><use href="#m" x="552.7" y="1396.9"/><use href="#m" x="528.8" y="1402.7"/><use href="#m" x="541.0" y="1408.3"/><use href="#m" x="547.5" y="1407.6"/><use href="#m" x="586.5" y="1400.5"/><use href="#m" x="567.7" y="1412.0"/><use href="#m" x="580.3" y="1437.6"/><use href="#m" x="593.0" y="1438.1"/><use href="#m" x="573.6" y="1444.8"/><use href="#m" x="560.2" y="1453.4"/><use href="#m" x="535.1" y="1467.2"/><use href="#m" x="540.5" y="1474.6"/><use href="#m" x="553.9" y="1469.4"/><use href="#m" x="581.8" y="1476.4"/><use href="#m" x="573.9" y="1485.1"/><use href="#m" x="533.6" y="1485.1"/><use href="#m" x="553.9" y="1518.7"/><use href="#m" x="547.0" y="1528.4"/><use href="#m" x="560.5" y="1527.6"/><use href="#m" x="567.9" y="1529.9"/><use href="#m" x="544.1" y="1541.0"/><use href="#m" x="587.8" y="1537.0"/><use href="#m" x="531.5" y="1556.0"/><use href="#m" x="551.2" y="1555.2"/><use href="#m" x="557.9" y="1551.5"/><use href="#m" x="564.4" y="1553.7"/><use href="#m" x="590.3" y="1565.7"/><use href="#m" x="570.3" y="1570.9"/><use href="#m" x="584.1" y="1585.8"/><use href="#m" x="537.8" y="1600.7"/><use href="#m" x="577.8" y="1610.4"/><use href="#m" x="563.9" y="1614.2"/><use href="#m" x="570.3" y="1618.7"/><use href="#m" x="551.5" y="1632.1"/><use href="#m" x="537.8" y="1640.6"/><use href="#m" x="577.8" y="1635.5"/><use href="#m" x="590.3" y="1639.6"/><use href="#m" x="584.1" y="1644.8"/><use href="#m" x="531.5" y="1665.7"/><use href="#m" x="557.6" y="1672.2"/><use href="#m" x="544.0" y="1678.5"/><use href="#m" x="560.1" y="1690.6"/><use href="#m" x="570.4" y="1691.7"/><use href="#m" x="551.7" y="1733.4"/><use href="#m" x="570.5" y="1755.6"/><use href="#m" x="551.7" y="1801.6"/><use href="#m" x="560.3" y="1820.7"/><use href="#m" x="556.6" y="1854.5"/><use href="#m" x="565.3" y="1891.4"/><use href="#m" x="720.1" y="1107.2"/><use href="#m" x="702.9" y="1130.6"/><use href="#m" x="728.9" y="1137.5"/><use href="#m" x="711.4" y="1148.5"/><use href="#m" x="720.1" y="1234.5"/><use href="#m" x="711.4" y="1241.5"/><use href="#m" x="716.2" y="1260.9"/><use href="#m" x="732.8" y="1263.4"/><use href="#m" x="707.7" y="1277.3"/><use href="#m" x="723.8" y="1310.9"/><use href="#m" x="699.1" y="1328.5"/><use href="#m" x="702.9" y="1365.0"/><use href="#m" x="711.4" y="1388.7"/><use href="#m" x="720.0" y="1398.1"/><use href="#m" x="728.9" y="1395.7"/><use href="#m" x="698.0" y="1424.5"/><use href="#m" x="718.9" y="1438.4"/><use href="#m" x="712.9" y="1452.1"/><use href="#m" x="733.8" y="1460.3"/><use href="#m" x="740.3" y="1472.7"/><use href="#m" x="691.3" y="1476.7"/><use href="#m" x="726.4" y="1479.7"/><use href="#m" x="705.5" y="1496.1"/><use href="#m" x="679.1" y="1504.3"/><use href="#m" x="731.6" y="1504.0"/><use href="#m" x="737.6" y="1504.3"/><use href="#m" x="742.3" y="1514.8"/><use href="#m" x="753.2" y="1510.6"/><use href="#m" x="727.1" y="1520.7"/><use href="#m" x="716.4" y="1523.0"/><use href="#m" x="700.3" y="1523.7"/><use href="#m" x="693.5" y="1529.7"/><use href="#m" x="710.4" y="1533.4"/><use href="#m" x="689.1" y="1543.1"/><use href="#m" x="705.0" y="1543.9"/><use href="#m" x="683.8" y="1554.8"/><use href="#m" x="721.9" y="1563.3"/><use href="#m" x="747.7" y="1565.5"/><use href="#m" x="702.5" y="1583.1"/><use href="#m" x="716.7" y="1583.4"/><use href="#m" x="690.1" y="1596.1"/><use href="#m" x="708.9" y="1597.2"/><use href="#m" x="728.9" y="1596.6"/><use href="#m" x="721.4" y="1606.6"/><use href="#m" x="735.3" y="1609.6"/><use href="#m" x="742.3" y="1611.5"/><use href="#m" x="748.0" y="1613.3"/><use href="#m" x="696.5" y="1618.5"/><use href="#m" x="684.0" y="1653.3"/><use href="#m" x="711.4" y="1655.6"/><use href="#m" x="727.8" y="1670.8"/><use href="#m" x="696.5" y="1678.2"/><use href="#m" x="720.1" y="1689.6"/><use href="#m" x="735.5" y="1690.9"/><use href="#m" x="703.7" y="1714.5"/><use href="#m" x="698.8" y="1745.6"/><use href="#m" x="716.5" y="1750.7"/><use href="#m" x="732.7" y="1751.8"/><use href="#m" x="707.7" y="1772.9"/><use href="#m" x="723.8" y="1793.4"/><use href="#m" x="716.5" y="1832.7"/><use href="#m" x="871.4" y="1186.1"/><use href="#m" x="866.4" y="1242.1"/><use href="#m" x="883.9" y="1258.5"/><use href="#m" x="857.5" y="1263.3"/><use href="#m" x="875.1" y="1292.1"/><use href="#m" x="856.7" y="1302.1"/><use href="#m" x="866.4" y="1304.8"/><use href="#m" x="883.9" y="1319.7"/><use href="#m" x="875.1" y="1334.6"/><use href="#m" x="847.8" y="1366.0"/><use href="#m" x="853.8" y="1366.7"/><use href="#m" x="868.4" y="1368.2"/><use href="#m" x="861.5" y="1374.9"/><use href="#m" x="887.3" y="1384.6"/><use href="#m" x="894.1" y="1383.1"/><use href="#m" x="900.3" y="1395.8"/><use href="#m" x="873.9" y="1398.5"/><use href="#m" x="841.5" y="1413.4"/><use href="#m" x="843.6" y="1424.9"/><use href="#m" x="857.5" y="1430.0"/><use href="#m" x="880.3" y="1421.9"/><use href="#m" x="897.8" y="1436.8"/><use href="#m" x="871.4" y="1452.8"/><use href="#m" x="891.4" y="1455.8"/><use href="#m" x="877.6" y="1464.0"/><use href="#m" x="883.9" y="1474.5"/><use href="#m" x="847.8" y="1488.2"/><use href="#m" x="850.0" y="1486.7"/><use href="#m" x="863.9" y="1486.0"/><use href="#m" x="887.3" y="1495.7"/><use href="#m" x="900.0" y="1500.9"/><use href="#m" x="841.5" y="1506.9"/><use href="#m" x="853.8" y="1509.9"/><use href="#m" x="867.9" y="1506.1"/><use href="#m" x="861.2" y="1540.4"/><use href="#m" x="873.9" y="1544.9"/><use href="#m" x="880.3" y="1540.1"/><use href="#m" x="893.8" y="1548.2"/><use href="#m" x="867.5" y="1556.9"/><use href="#m" x="859.7" y="1561.0"/><use href="#m" x="888.8" y="1564.3"/><use href="#m" x="895.3" y="1567.0"/><use href="#m" x="852.6" y="1575.5"/><use href="#m" x="873.9" y="1573.3"/><use href="#m" x="846.3" y="1591.9"/><use href="#m" x="881.4" y="1603.1"/><use href="#m" x="871.4" y="1624.8"/><use href="#m" x="854.1" y="1653.1"/><use href="#m" x="878.8" y="1653.9"/><use href="#m" x="887.8" y="1668.1"/><use href="#m" x="862.7" y="1675.5"/><use href="#m" x="862.7" y="1682.2"/><use href="#m" x="854.0" y="1694.7"/><use href="#m" x="887.8" y="1694.4"/><use href="#m" x="871.4" y="1713.0"/><use href="#m" x="878.9" y="1725.4"/><use href="#m" x="879.0" y="1749.5"/><use href="#m" x="871.3" y="1775.6"/><use href="#m" x="853.8" y="1794.5"/><use href="#m" x="862.6" y="1804.4"/><use href="#m" x="887.7" y="1801.8"/><use href="#m" x="1026.4" y="1089.7"/><use href="#m" x="1026.4" y="1174.8"/><use href="#m" x="1022.5" y="1263.3"/><use href="#m" x="1036.8" y="1269.3"/><use href="#m" x="1028.9" y="1278.8"/><use href="#m" x="1001.0" y="1291.9"/><use href="#m" x="1015.0" y="1297.2"/><use href="#m" x="1043.8" y="1309.6"/><use href="#m" x="1050.3" y="1318.5"/><use href="#m" x="1007.6" y="1340.9"/><use href="#m" x="1026.4" y="1352.3"/><use href="#m" x="1009.1" y="1383.6"/><use href="#m" x="1033.8" y="1404.5"/><use href="#m" x="1042.8" y="1413.4"/><use href="#m" x="1017.7" y="1426.9"/><use href="#m" x="1008.8" y="1440.7"/><use href="#m" x="1060.3" y="1434.3"/><use href="#m" x="1020.0" y="1479.6"/><use href="#m" x="1042.8" y="1482.8"/><use href="#m" x="1049.1" y="1482.1"/><use href="#m" x="995.6" y="1493.3"/><use href="#m" x="1002.5" y="1493.3"/><use href="#m" x="1026.4" y="1495.5"/><use href="#m" x="1031.1" y="1499.3"/><use href="#m" x="1055.3" y="1503.4"/><use href="#m" x="990.9" y="1510.9"/><use href="#m" x="1014.0" y="1517.2"/><use href="#m" x="1037.9" y="1518.4"/><use href="#m" x="989.4" y="1526.9"/><use href="#m" x="995.6" y="1527.6"/><use href="#m" x="1009.1" y="1530.3"/><use href="#m" x="1020.4" y="1525.8"/><use href="#m" x="1042.8" y="1534.3"/><use href="#m" x="1049.1" y="1545.8"/><use href="#m" x="1026.7" y="1548.5"/><use href="#m" x="1031.1" y="1552.2"/><use href="#m" x="1060.3" y="1559.7"/><use href="#m" x="1037.9" y="1581.6"/><use href="#m" x="1055.3" y="1583.1"/><use href="#m" x="1002.8" y="1603.7"/><use href="#m" x="1014.0" y="1604.5"/><use href="#m" x="999.1" y="1609.7"/><use href="#m" x="1041.4" y="1616.4"/><use href="#m" x="1028.8" y="1623.2"/><use href="#m" x="992.4" y="1634.4"/><use href="#m" x="1005.0" y="1652.8"/><use href="#m" x="1009.9" y="1666.8"/><use href="#m" x="1016.0" y="1677.4"/><use href="#m" x="1022.5" y="1674.2"/><use href="#m" x="1046.3" y="1671.7"/><use href="#m" x="1052.6" y="1672.2"/><use href="#m" x="1059.1" y="1671.7"/><use href="#m" x="1034.8" y="1689.7"/><use href="#m" x="1042.7" y="1703.4"/><use href="#m" x="1017.6" y="1724.2"/><use href="#m" x="1034.0" y="1720.4"/><use href="#m" x="1026.3" y="1749.3"/><use href="#m" x="1008.9" y="1762.0"/><use href="#m" x="1029.9" y="1833.0"/><use href="#m" x="1021.4" y="1848.1"/><use href="#m" x="1026.3" y="1898.1"/></g>
<path d="M97 1081 V1936.75 H1181" fill="none" stroke="#262626" stroke-width="1.6"/>
<path d="M97 1081.0 H106 M97 1188.0 H106 M97 1295.0 H106 M97 1402.0 H106 M97 1509.0 H106 M97 1616.0 H106 M97 1723.0 H106 M97 1830.0 H106 M97 1937.0 H106 M251.4 1936.75 V1926.5 M406.4 1936.75 V1926.5 M561.4 1936.75 V1926.5 M716.4 1936.75 V1926.5 M871.4 1936.75 V1926.5 M1026.4 1936.75 V1926.5" fill="none" stroke="#262626" stroke-width="1.6"/>
<text x="85.9" y="1090.6" text-anchor="end" class="tk">2</text>
<text x="85.9" y="1197.6" text-anchor="end" class="tk">.5</text>
<path d="M60.10 1196.80 L60.10 1179.20 L58.70 1179.20 C57.90 1181.20 56.20 1182.20 52.90 1182.50 L52.90 1185.00 C55.20 1185.00 56.70 1184.50 57.50 1183.80 L57.50 1196.80 Z" fill="#000"/>
<path d="M80.20 1303.80 L80.20 1286.20 L78.80 1286.20 C78.00 1288.20 76.30 1289.20 73.00 1289.50 L73.00 1292.00 C75.30 1292.00 76.80 1291.50 77.60 1290.80 L77.60 1303.80 Z" fill="#000"/>
<text x="85.9" y="1411.6" text-anchor="end" class="tk">0.5</text>
<text x="85.9" y="1518.6" text-anchor="end" class="tk">0</text>
<text x="85.9" y="1625.6" text-anchor="end" class="tk">0.5</text>
<rect x="43.9" y="1617.3" width="7.8" height="2.4" fill="#000"/>
<path d="M80.20 1731.80 L80.20 1714.20 L78.80 1714.20 C78.00 1716.20 76.30 1717.20 73.00 1717.50 L73.00 1720.00 C75.30 1720.00 76.80 1719.50 77.60 1718.80 L77.60 1731.80 Z" fill="#000"/>
<rect x="63.6" y="1724.3" width="7.4" height="2.4" fill="#000"/>
<text x="85.9" y="1839.6" text-anchor="end" class="tk">.5</text>
<path d="M60.10 1838.80 L60.10 1821.20 L58.70 1821.20 C57.90 1823.20 56.20 1824.20 52.90 1824.50 L52.90 1827.00 C55.20 1827.00 56.70 1826.50 57.50 1825.80 L57.50 1838.80 Z" fill="#000"/>
<rect x="42.4" y="1831.3" width="7.6" height="2.4" fill="#000"/>
<text x="85.9" y="1946.6" text-anchor="end" class="tk">2</text>
<rect x="64.0" y="1938.3" width="7.8" height="2.4" fill="#000"/>
<path d="M252.80 1971.10 L252.80 1953.50 L251.40 1953.50 C250.60 1955.50 248.90 1956.50 245.60 1956.80 L245.60 1959.30 C247.90 1959.30 249.40 1958.80 250.20 1958.10 L250.20 1971.10 Z" fill="#000"/>
<text x="405.3" y="1970.7" text-anchor="middle" class="tk">2</text>
<text x="560.3" y="1970.7" text-anchor="middle" class="tk">3</text>
<text x="715.3" y="1970.7" text-anchor="middle" class="tk">4</text>
<text x="870.3" y="1970.7" text-anchor="middle" class="tk">5</text>
<text x="1025.3" y="1970.7" text-anchor="middle" class="tk">6</text>
<text x="638" y="2005.9" text-anchor="middle" class="lb">hours</text>
<text transform="translate(27.0 1508.5) rotate(-90)" text-anchor="middle" class="lb">standardised mean</text>
<text transform="translate(638.3 1070.8) scale(1 1.06)" text-anchor="middle" class="tt">(b)</text>
</svg>
</body></html>
